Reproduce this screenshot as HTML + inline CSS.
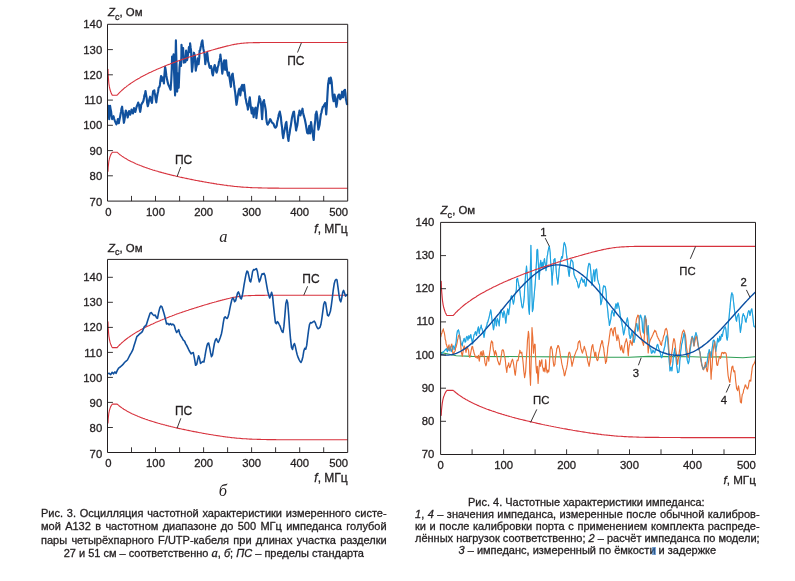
<!DOCTYPE html>
<html lang="ru"><head><meta charset="utf-8"><title>Рис. 3, 4</title>
<style>
html,body{margin:0;padding:0;background:#fff;}
body{width:795px;height:581px;position:relative;overflow:hidden;font-family:"Liberation Sans",Arial,sans-serif;color:#231f20;}
svg{position:absolute;left:0;top:0;will-change:transform;}
svg text{font-family:"Liberation Sans",Arial,sans-serif;fill:#231f20;stroke:#231f20;stroke-width:0.3px;}
svg text.ser{font-family:"Liberation Serif",serif;font-style:italic;font-size:16.5px;stroke:none;}
.c{position:absolute;white-space:nowrap;color:#231f20;will-change:transform;-webkit-text-stroke:0.3px #231f20;}
.c i.s{font-family:"Liberation Serif",serif;font-size:1.15em;line-height:0;}
</style></head><body>
<svg width="795" height="581" viewBox="0 0 795 581">
<clipPath id="ca"><rect x="107.5" y="24.3" width="240.7" height="176.8"/></clipPath>
<polyline points="107.5,113.4 107.9,109.1 108.4,105.8 108.8,111.8 109.2,119.1 109.7,112.2 110.1,105.8 110.5,108.6 111.1,111.5 111.5,115.2 112.2,119.1 112.7,117.1 113.5,116.2 114.2,119.0 114.9,120.9 115.5,122.3 116.4,124.4 117.2,122.3 117.9,119.1 118.4,121.0 118.8,123.2 119.6,119.1 120.2,116.2 120.7,113.5 121.1,111.5 121.5,108.6 122.1,106.7 122.5,110.5 123.0,113.4 123.4,118.2 123.9,122.8 124.5,119.8 124.9,117.2 125.4,113.2 125.8,110.5 126.2,111.5 126.8,113.4 127.3,115.4 127.7,117.5 128.3,114.4 129.1,111.1 129.6,112.6 130.2,114.7 131.0,112.4 131.5,109.6 132.1,111.6 132.9,113.4 133.4,111.2 134.0,108.1 134.7,109.7 135.3,111.9 136.1,108.8 136.6,106.7 137.4,105.0 138.2,102.6 138.5,103.7 139.1,104.8 139.5,108.6 140.2,111.9 140.8,108.4 141.2,104.8 141.9,103.6 142.3,102.9 143.0,101.8 143.5,100.5 144.0,97.9 144.4,95.4 145.1,93.8 145.5,91.0 146.1,94.8 146.7,98.2 147.1,102.5 147.8,106.2 148.4,104.0 149.0,100.5 149.6,98.3 150.1,96.7 150.5,98.8 151.0,100.5 151.4,101.7 152.0,102.9 152.5,96.4 153.1,91.0 153.6,91.0 154.3,90.3 154.6,92.5 155.2,95.4 155.7,99.4 156.3,102.4 156.8,98.1 157.5,94.0 158.1,91.5 158.6,87.8 159.4,86.9 159.9,84.9 160.4,80.4 161.1,76.0 161.5,78.9 162.0,80.8 162.6,78.6 163.0,77.4 163.4,80.0 163.9,83.4 164.4,75.2 165.1,66.9 165.6,69.5 166.0,72.6 166.4,76.0 167.1,79.6 167.7,82.2 168.3,84.6 169.0,86.0 169.4,86.8 170.0,88.4 170.6,89.7 171.0,84.0 171.3,79.6 171.8,68.5 172.1,56.5 172.6,62.6 172.8,67.9 173.2,60.9 173.6,54.3 173.8,66.0 174.3,77.4 174.6,85.8 175.1,95.4 175.4,67.4 175.9,40.4 176.2,53.5 176.6,67.9 176.8,79.2 177.2,91.6 177.4,82.4 177.9,73.6 178.2,81.2 178.7,87.8 179.1,77.4 179.5,67.9 179.8,64.4 180.2,61.3 180.6,63.1 181.0,66.0 181.4,56.1 181.5,44.8 181.9,50.2 182.3,55.6 182.6,51.2 183.1,48.0 183.4,55.0 183.8,62.6 184.3,60.0 184.6,58.4 184.8,60.9 185.3,62.2 185.7,55.8 186.1,50.5 186.6,54.7 187.0,60.3 187.5,58.1 188.0,54.6 188.6,51.1 188.9,47.1 189.3,49.2 189.9,51.8 189.9,47.9 190.1,43.3 190.6,47.4 191.1,50.8 191.5,60.9 192.0,71.7 192.6,67.2 193.0,61.3 193.5,57.4 193.9,52.7 194.5,54.5 194.9,55.6 195.2,63.2 195.8,70.7 196.2,67.7 196.7,66.0 197.1,61.9 197.7,58.4 198.1,61.5 198.6,64.1 199.3,57.4 199.6,50.8 200.2,50.1 200.5,48.0 201.1,45.4 201.5,43.3 201.9,41.5 202.4,40.4 202.8,44.3 203.4,48.9 203.9,51.4 204.3,52.7 204.9,58.4 205.3,64.1 205.8,60.3 206.2,55.6 206.6,54.4 207.2,52.7 207.8,57.4 208.1,61.3 208.7,63.1 209.1,65.1 209.4,66.9 210.0,67.9 210.4,67.4 211.0,66.0 211.6,68.2 211.9,70.7 212.3,73.7 212.9,75.5 213.4,72.2 213.8,69.8 214.2,66.9 214.7,65.1 215.3,67.4 215.7,68.8 216.1,71.2 216.6,72.6 217.3,70.5 217.6,67.9 218.0,66.5 218.5,65.1 218.9,62.0 219.5,60.3 220.1,57.7 220.4,54.6 220.9,59.0 221.4,62.2 221.8,68.4 222.3,73.6 222.9,69.4 223.3,66.0 223.7,62.9 224.2,60.3 224.6,65.2 225.2,69.8 225.6,64.9 226.1,60.3 226.5,66.1 227.1,70.7 227.5,73.0 228.0,75.5 228.5,74.6 229.0,72.6 229.4,77.0 229.9,80.2 230.4,83.6 230.9,86.8 231.3,80.5 231.8,75.5 232.3,74.1 232.7,73.6 233.1,77.8 233.7,81.2 234.1,84.9 234.6,88.7 235.2,92.6 235.6,96.3 236.0,100.6 236.5,104.8 237.0,101.9 237.5,98.2 237.8,95.5 238.4,92.5 238.8,90.3 239.4,88.7 239.9,92.1 240.3,95.4 240.8,91.5 241.3,86.8 241.9,85.8 242.2,84.9 242.7,87.8 243.2,90.6 243.6,88.1 244.1,84.9 244.6,89.7 245.1,94.4 245.5,97.9 246.0,100.1 246.5,103.0 247.0,104.8 247.6,106.9 247.9,109.6 248.4,106.9 248.9,102.9 249.4,99.6 249.8,97.3 250.2,101.4 250.7,105.8 251.1,109.2 251.7,113.4 252.0,110.8 252.6,107.7 253.2,113.0 253.6,117.2 254.0,114.1 254.5,110.5 255.1,108.6 255.5,107.7 256.1,113.5 256.4,118.1 256.8,114.5 257.4,109.6 257.8,106.7 258.3,103.9 258.9,100.6 259.3,96.3 259.6,97.6 260.2,99.2 260.7,102.2 261.2,105.8 261.6,112.2 262.1,119.1 262.7,109.9 263.1,102.0 263.6,101.0 264.0,100.1 264.3,102.7 265.0,105.8 265.5,108.6 265.9,111.5 266.2,117.8 266.9,122.8 267.4,124.4 267.8,124.7 268.2,123.5 268.8,122.9 269.3,121.4 270.1,119.2 270.6,119.6 271.3,121.1 271.9,122.6 272.6,122.9 273.3,123.6 273.9,124.8 274.6,126.8 275.4,127.7 276.1,127.0 276.7,125.8 277.2,121.9 277.9,119.2 278.4,116.7 278.8,114.4 279.2,113.6 279.8,111.6 280.4,114.8 280.9,117.3 281.4,123.0 282.1,127.7 282.5,133.4 283.2,138.1 283.7,134.6 284.3,131.5 284.9,128.8 285.5,124.8 285.9,122.9 286.4,122.0 286.9,127.3 287.4,133.4 287.8,136.7 288.5,140.9 288.9,136.7 289.6,133.4 290.1,129.3 290.8,125.8 291.4,121.7 291.9,118.2 292.5,115.4 293.0,113.5 293.5,111.9 294.0,111.6 294.4,115.6 294.9,121.1 295.6,125.9 296.1,130.5 296.5,128.1 297.2,125.8 297.9,120.5 298.3,116.3 299.0,113.4 299.5,110.6 300.0,113.5 300.4,115.4 300.9,113.5 301.4,111.6 302.0,110.8 302.5,108.7 303.0,112.5 303.7,115.4 304.3,117.5 304.8,119.2 305.3,121.8 305.9,124.8 306.4,128.1 307.1,132.4 307.5,133.2 308.2,133.4 308.7,129.1 309.3,125.8 309.6,130.1 310.1,133.4 310.7,127.9 311.0,122.0 311.5,125.4 312.0,129.6 312.4,131.9 312.9,134.3 313.2,137.1 313.7,140.0 314.1,133.5 314.6,125.8 315.3,120.2 315.6,114.4 316.0,113.7 316.5,111.6 317.0,114.7 317.5,118.2 317.8,123.7 318.4,129.6 319.0,127.2 319.6,124.8 320.0,121.1 320.5,117.3 320.8,114.6 321.5,112.5 321.8,110.5 322.4,108.7 322.7,107.1 323.4,106.8 323.8,105.5 324.3,104.9 324.8,104.0 325.3,103.1 325.8,109.0 326.2,114.4 326.7,108.3 327.1,101.2 327.6,92.4 328.1,84.1 328.7,80.8 329.0,78.4 329.6,81.0 330.0,83.2 330.2,80.8 330.7,77.5 331.3,80.0 331.7,82.2 332.2,89.3 332.6,95.5 333.0,98.3 333.6,101.2 334.1,98.3 334.5,94.5 335.1,97.8 335.5,100.2 336.0,104.1 336.4,106.8 337.0,103.3 337.4,99.3 337.8,96.7 338.3,95.5 338.7,94.8 339.3,94.5 339.6,97.4 340.2,99.3 340.7,98.5 341.2,97.4 341.7,94.8 342.1,91.7 342.6,93.8 343.1,97.4 343.6,94.4 344.0,90.7 344.5,90.3 345.0,89.8 345.5,93.9 345.9,99.3 346.4,101.3 346.9,104.0 347.2,104.1 347.8,104.9" fill="none" stroke="#11519e" stroke-width="2.15" stroke-linejoin="round" stroke-linecap="butt" clip-path="url(#ca)"/>
<polyline points="107.5,69.2 108.0,69.2 108.2,75.1 108.5,79.0 108.7,81.7 108.9,83.8 109.2,85.5 109.4,86.9 109.7,88.1 109.9,89.1 110.1,90.0 110.4,90.8 110.6,91.6 110.9,92.2 111.1,92.8 111.3,93.4 111.6,93.9 111.8,94.4 112.1,94.8 112.3,95.2 112.5,95.2 112.8,95.2 113.0,95.2 113.3,95.2 113.5,95.2 113.7,95.2 114.0,95.2 114.2,95.2 114.5,95.2 114.7,95.2 114.9,95.2 115.2,95.2 115.4,95.2 115.7,95.2 115.9,95.2 116.1,95.2 116.4,95.2 116.6,95.2 116.9,95.2 117.1,95.2 117.3,95.0 118.1,94.1 119.0,93.1 120.0,92.1 121.0,91.2 121.9,90.3 122.9,89.5 123.8,88.6 124.8,87.8 125.8,87.1 126.7,86.3 127.7,85.6 128.6,84.9 129.6,84.2 130.6,83.5 131.5,82.9 132.5,82.3 133.4,81.6 134.4,81.0 135.4,80.4 136.3,79.8 137.3,79.3 138.2,78.7 139.2,78.2 140.2,77.6 141.1,77.1 142.1,76.6 143.0,76.0 144.0,75.5 145.0,75.0 145.9,74.5 146.9,74.1 147.9,73.6 148.8,73.1 149.8,72.6 150.7,72.2 151.7,71.7 152.7,71.3 153.6,70.8 154.6,70.4 155.5,70.0 156.5,69.5 157.5,69.1 158.4,68.7 159.4,68.3 160.3,67.9 161.3,67.5 162.3,67.1 163.2,66.7 164.2,66.3 165.1,65.9 166.1,65.5 167.1,65.1 168.0,64.7 169.0,64.4 170.0,64.0 170.9,63.6 171.9,63.3 172.8,62.9 173.8,62.5 174.8,62.2 175.7,61.8 176.7,61.5 177.6,61.1 178.6,60.8 179.6,60.4 180.5,60.1 181.5,59.8 182.4,59.4 183.4,59.1 184.4,58.8 185.3,58.4 186.3,58.1 187.2,57.8 188.2,57.5 189.2,57.1 190.1,56.8 191.1,56.5 192.1,56.2 193.0,55.9 194.0,55.6 194.9,55.3 195.9,55.0 196.9,54.7 197.8,54.4 198.8,54.1 199.7,53.8 200.7,53.5 201.7,53.2 202.6,52.9 203.6,52.6 204.5,52.3 205.5,52.0 206.5,51.7 207.4,51.4 208.4,51.1 209.3,50.9 210.3,50.6 211.3,50.3 212.2,50.0 213.2,49.8 214.1,49.5 215.1,49.2 216.1,48.9 217.0,48.7 218.0,48.4 219.0,48.1 219.9,47.9 220.9,47.6 221.8,47.4 222.8,47.1 223.8,46.9 224.7,46.6 225.7,46.4 226.6,46.1 227.6,45.9 228.6,45.7 229.5,45.5 230.5,45.2 231.4,45.0 232.4,44.8 233.4,44.6 234.3,44.4 235.3,44.3 236.2,44.1 237.2,43.9 238.2,43.8 239.1,43.7 240.1,43.5 241.1,43.4 242.0,43.3 243.0,43.2 243.9,43.1 244.9,43.0 245.9,43.0 246.8,42.9 247.8,42.9 248.7,42.8 249.7,42.8 250.7,42.7 251.6,42.7 252.6,42.7 253.5,42.6 254.5,42.6 255.5,42.6 256.4,42.6 257.4,42.6 258.3,42.6 259.3,42.6 260.3,42.5 261.2,42.5 262.2,42.5 263.1,42.5 264.1,42.5 265.1,42.5 266.0,42.5 267.0,42.5 268.0,42.5 268.9,42.5 269.9,42.5 270.8,42.5 271.8,42.5 272.8,42.5 273.7,42.5 274.7,42.5 275.6,42.5 276.6,42.5 277.6,42.5 278.5,42.5 279.5,42.5 280.4,42.5 281.4,42.5 282.4,42.5 283.3,42.5 284.3,42.5 285.2,42.5 286.2,42.5 287.2,42.5 288.1,42.5 289.1,42.5 290.1,42.5 291.0,42.5 292.0,42.5 292.9,42.5 293.9,42.5 294.9,42.5 295.8,42.5 296.8,42.5 297.7,42.5 298.7,42.5 299.7,42.5 300.6,42.5 301.6,42.5 302.5,42.5 303.5,42.5 304.5,42.5 305.4,42.5 306.4,42.5 307.3,42.5 308.3,42.5 309.3,42.5 310.2,42.5 311.2,42.5 312.2,42.5 313.1,42.5 314.1,42.5 315.0,42.5 316.0,42.5 317.0,42.5 317.9,42.5 318.9,42.5 319.8,42.5 320.8,42.5 321.8,42.5 322.7,42.5 323.7,42.5 324.6,42.5 325.6,42.5 326.6,42.5 327.5,42.5 328.5,42.5 329.4,42.5 330.4,42.5 331.4,42.5 332.3,42.5 333.3,42.5 334.2,42.5 335.2,42.5 336.2,42.5 337.1,42.5 338.1,42.5 339.1,42.5 340.0,42.5 341.0,42.5 341.9,42.5 342.9,42.5 343.9,42.5 344.8,42.5 345.8,42.5 346.7,42.5 347.7,42.5" fill="none" stroke="#d7323d" stroke-width="1.1" stroke-linejoin="round" stroke-linecap="butt" />
<polyline points="107.5,171.3 108.0,171.3 108.2,167.2 108.5,164.5 108.7,162.5 108.9,161.0 109.2,159.7 109.4,158.7 109.7,157.8 109.9,157.0 110.1,156.3 110.4,155.7 110.6,155.1 110.9,154.6 111.1,154.1 111.3,153.7 111.6,153.3 111.8,152.9 112.1,152.6 112.3,152.2 112.5,152.2 112.8,152.2 113.0,152.2 113.3,152.2 113.5,152.2 113.7,152.2 114.0,152.2 114.2,152.2 114.5,152.2 114.7,152.2 114.9,152.2 115.2,152.2 115.4,152.2 115.7,152.2 115.9,152.2 116.1,152.2 116.4,152.2 116.6,152.2 116.9,152.2 117.1,152.2 117.3,152.4 118.1,153.1 119.0,153.9 120.0,154.7 121.0,155.4 121.9,156.1 122.9,156.7 123.8,157.4 124.8,158.0 125.8,158.6 126.7,159.1 127.7,159.7 128.6,160.2 129.6,160.7 130.6,161.2 131.5,161.7 132.5,162.1 133.4,162.6 134.4,163.0 135.4,163.5 136.3,163.9 137.3,164.3 138.2,164.7 139.2,165.1 140.2,165.5 141.1,165.8 142.1,166.2 143.0,166.6 144.0,166.9 145.0,167.3 145.9,167.6 146.9,167.9 147.9,168.3 148.8,168.6 149.8,168.9 150.7,169.2 151.7,169.5 152.7,169.9 153.6,170.2 154.6,170.4 155.5,170.7 156.5,171.0 157.5,171.3 158.4,171.6 159.4,171.9 160.3,172.1 161.3,172.4 162.3,172.7 163.2,172.9 164.2,173.2 165.1,173.4 166.1,173.7 167.1,173.9 168.0,174.2 169.0,174.4 170.0,174.7 170.9,174.9 171.9,175.2 172.8,175.4 173.8,175.6 174.8,175.8 175.7,176.1 176.7,176.3 177.6,176.5 178.6,176.7 179.6,177.0 180.5,177.2 181.5,177.4 182.4,177.6 183.4,177.8 184.4,178.0 185.3,178.2 186.3,178.4 187.2,178.6 188.2,178.8 189.2,179.0 190.1,179.2 191.1,179.4 192.1,179.6 193.0,179.8 194.0,180.0 194.9,180.2 195.9,180.4 196.9,180.5 197.8,180.7 198.8,180.9 199.7,181.1 200.7,181.3 201.7,181.4 202.6,181.6 203.6,181.8 204.5,182.0 205.5,182.1 206.5,182.3 207.4,182.5 208.4,182.6 209.3,182.8 210.3,183.0 211.3,183.1 212.2,183.3 213.2,183.4 214.1,183.6 215.1,183.8 216.1,183.9 217.0,184.1 218.0,184.2 219.0,184.3 219.9,184.5 220.9,184.6 221.8,184.8 222.8,184.9 223.8,185.0 224.7,185.2 225.7,185.3 226.6,185.4 227.6,185.6 228.6,185.7 229.5,185.8 230.5,185.9 231.4,186.0 232.4,186.1 233.4,186.2 234.3,186.4 235.3,186.5 236.2,186.5 237.2,186.6 238.2,186.7 239.1,186.8 240.1,186.9 241.1,187.0 242.0,187.1 243.0,187.1 243.9,187.2 244.9,187.3 245.9,187.3 246.8,187.4 247.8,187.4 248.7,187.5 249.7,187.5 250.7,187.6 251.6,187.6 252.6,187.7 253.5,187.7 254.5,187.7 255.5,187.8 256.4,187.8 257.4,187.8 258.3,187.9 259.3,187.9 260.3,187.9 261.2,187.9 262.2,188.0 263.1,188.0 264.1,188.0 265.1,188.0 266.0,188.0 267.0,188.0 268.0,188.1 268.9,188.1 269.9,188.1 270.8,188.1 271.8,188.1 272.8,188.1 273.7,188.1 274.7,188.1 275.6,188.1 276.6,188.1 277.6,188.1 278.5,188.1 279.5,188.2 280.4,188.2 281.4,188.2 282.4,188.2 283.3,188.2 284.3,188.2 285.2,188.2 286.2,188.2 287.2,188.2 288.1,188.2 289.1,188.2 290.1,188.2 291.0,188.2 292.0,188.2 292.9,188.2 293.9,188.2 294.9,188.2 295.8,188.2 296.8,188.2 297.7,188.2 298.7,188.2 299.7,188.2 300.6,188.2 301.6,188.2 302.5,188.2 303.5,188.2 304.5,188.2 305.4,188.2 306.4,188.2 307.3,188.2 308.3,188.2 309.3,188.2 310.2,188.2 311.2,188.2 312.2,188.2 313.1,188.2 314.1,188.2 315.0,188.2 316.0,188.2 317.0,188.2 317.9,188.2 318.9,188.2 319.8,188.2 320.8,188.2 321.8,188.2 322.7,188.2 323.7,188.2 324.6,188.2 325.6,188.2 326.6,188.2 327.5,188.2 328.5,188.2 329.4,188.2 330.4,188.2 331.4,188.2 332.3,188.2 333.3,188.2 334.2,188.2 335.2,188.2 336.2,188.2 337.1,188.2 338.1,188.2 339.1,188.2 340.0,188.2 341.0,188.2 341.9,188.2 342.9,188.2 343.9,188.2 344.8,188.2 345.8,188.2 346.7,188.2 347.7,188.2" fill="none" stroke="#d7323d" stroke-width="1.1" stroke-linejoin="round" stroke-linecap="butt" />
<path d="M107.5 24.3H347.7V201.1H107.5Z" fill="none" stroke="#231f20" stroke-width="1"/>
<line x1="131.5" y1="201.1" x2="131.5" y2="195.9" stroke="#231f20" stroke-width="0.9"/>
<line x1="155.5" y1="201.1" x2="155.5" y2="195.9" stroke="#231f20" stroke-width="0.9"/>
<line x1="179.6" y1="201.1" x2="179.6" y2="195.9" stroke="#231f20" stroke-width="0.9"/>
<line x1="203.6" y1="201.1" x2="203.6" y2="195.9" stroke="#231f20" stroke-width="0.9"/>
<line x1="227.6" y1="201.1" x2="227.6" y2="195.9" stroke="#231f20" stroke-width="0.9"/>
<line x1="251.6" y1="201.1" x2="251.6" y2="195.9" stroke="#231f20" stroke-width="0.9"/>
<line x1="275.6" y1="201.1" x2="275.6" y2="195.9" stroke="#231f20" stroke-width="0.9"/>
<line x1="299.7" y1="201.1" x2="299.7" y2="195.9" stroke="#231f20" stroke-width="0.9"/>
<line x1="323.7" y1="201.1" x2="323.7" y2="195.9" stroke="#231f20" stroke-width="0.9"/>
<line x1="107.5" y1="175.8" x2="112.9" y2="175.8" stroke="#231f20" stroke-width="0.9"/>
<line x1="107.5" y1="150.6" x2="112.9" y2="150.6" stroke="#231f20" stroke-width="0.9"/>
<line x1="107.5" y1="125.3" x2="112.9" y2="125.3" stroke="#231f20" stroke-width="0.9"/>
<line x1="107.5" y1="100.1" x2="112.9" y2="100.1" stroke="#231f20" stroke-width="0.9"/>
<line x1="107.5" y1="74.8" x2="112.9" y2="74.8" stroke="#231f20" stroke-width="0.9"/>
<line x1="107.5" y1="49.6" x2="112.9" y2="49.6" stroke="#231f20" stroke-width="0.9"/>
<text x="102.2" y="206.2" text-anchor="end" font-size="11.3">70</text>
<text x="102.2" y="179.9" text-anchor="end" font-size="11.3">80</text>
<text x="102.2" y="154.7" text-anchor="end" font-size="11.3">90</text>
<text x="102.2" y="129.4" text-anchor="end" font-size="11.3">100</text>
<text x="102.2" y="104.1" text-anchor="end" font-size="11.3">110</text>
<text x="102.2" y="78.9" text-anchor="end" font-size="11.3">120</text>
<text x="102.2" y="53.6" text-anchor="end" font-size="11.3">130</text>
<text x="102.2" y="28.4" text-anchor="end" font-size="11.3">140</text>
<text x="108.5" y="216.2" text-anchor="middle" font-size="11.3">0</text>
<text x="155.5" y="216.2" text-anchor="middle" font-size="11.3">100</text>
<text x="203.6" y="216.2" text-anchor="middle" font-size="11.3">200</text>
<text x="251.6" y="216.2" text-anchor="middle" font-size="11.3">300</text>
<text x="299.7" y="216.2" text-anchor="middle" font-size="11.3">400</text>
<text x="348.0" y="216.2" text-anchor="end" font-size="11.3">500</text>
<text x="108.0" y="16.2" font-size="11.4"><tspan font-style="italic">Z</tspan><tspan dy="3.6" font-size="9.120000000000001">с</tspan><tspan dy="-3.6">, Ом</tspan></text>
<text x="347.7" y="232.5" text-anchor="end" font-size="12.0"><tspan font-style="italic">f</tspan>, МГц</text>
<text x="295.8" y="64.7" text-anchor="middle" font-size="12.0">ПС</text>
<line x1="301.4" y1="42.8" x2="297.5" y2="52.5" stroke="#231f20" stroke-width="0.9"/>
<text x="183.6" y="164.3" text-anchor="middle" font-size="12.0">ПС</text>
<line x1="180.7" y1="167.0" x2="177.1" y2="176.6" stroke="#231f20" stroke-width="0.9"/>
<text x="223.3" y="242.4" text-anchor="middle" class="ser">а</text>
<clipPath id="cb"><rect x="107.5" y="259.4" width="240.7" height="193.1"/></clipPath>
<polyline points="107.5,321.8 108.0,321.8 108.2,327.7 108.5,331.5 108.7,334.2 108.9,336.3 109.2,337.9 109.4,339.3 109.7,340.5 109.9,341.5 110.1,342.4 110.4,343.2 110.6,344.0 110.9,344.6 111.1,345.2 111.3,345.8 111.6,346.3 111.8,346.7 112.1,347.2 112.3,347.6 112.5,347.6 112.8,347.6 113.0,347.6 113.3,347.6 113.5,347.6 113.7,347.6 114.0,347.6 114.2,347.6 114.5,347.6 114.7,347.6 114.9,347.6 115.2,347.6 115.4,347.6 115.7,347.6 115.9,347.6 116.1,347.6 116.4,347.6 116.6,347.6 116.9,347.6 117.1,347.6 117.3,347.3 118.1,346.5 119.0,345.5 120.0,344.5 121.0,343.6 121.9,342.7 122.9,341.9 123.8,341.1 124.8,340.3 125.8,339.5 126.7,338.8 127.7,338.0 128.6,337.4 129.6,336.7 130.6,336.0 131.5,335.4 132.5,334.7 133.4,334.1 134.4,333.5 135.4,332.9 136.3,332.3 137.3,331.8 138.2,331.2 139.2,330.7 140.2,330.1 141.1,329.6 142.1,329.1 143.0,328.6 144.0,328.1 145.0,327.6 145.9,327.1 146.9,326.6 147.9,326.1 148.8,325.7 149.8,325.2 150.7,324.7 151.7,324.3 152.7,323.9 153.6,323.4 154.6,323.0 155.5,322.6 156.5,322.1 157.5,321.7 158.4,321.3 159.4,320.9 160.3,320.5 161.3,320.1 162.3,319.7 163.2,319.3 164.2,318.9 165.1,318.5 166.1,318.1 167.1,317.8 168.0,317.4 169.0,317.0 170.0,316.6 170.9,316.3 171.9,315.9 172.8,315.5 173.8,315.2 174.8,314.8 175.7,314.5 176.7,314.1 177.6,313.8 178.6,313.5 179.6,313.1 180.5,312.8 181.5,312.4 182.4,312.1 183.4,311.8 184.4,311.5 185.3,311.1 186.3,310.8 187.2,310.5 188.2,310.2 189.2,309.8 190.1,309.5 191.1,309.2 192.1,308.9 193.0,308.6 194.0,308.3 194.9,308.0 195.9,307.7 196.9,307.4 197.8,307.1 198.8,306.8 199.7,306.5 200.7,306.2 201.7,305.9 202.6,305.6 203.6,305.3 204.5,305.0 205.5,304.7 206.5,304.5 207.4,304.2 208.4,303.9 209.3,303.6 210.3,303.3 211.3,303.1 212.2,302.8 213.2,302.5 214.1,302.3 215.1,302.0 216.1,301.7 217.0,301.4 218.0,301.2 219.0,300.9 219.9,300.7 220.9,300.4 221.8,300.2 222.8,299.9 223.8,299.7 224.7,299.4 225.7,299.2 226.6,298.9 227.6,298.7 228.6,298.5 229.5,298.3 230.5,298.0 231.4,297.8 232.4,297.6 233.4,297.4 234.3,297.3 235.3,297.1 236.2,296.9 237.2,296.8 238.2,296.6 239.1,296.5 240.1,296.4 241.1,296.2 242.0,296.1 243.0,296.0 243.9,296.0 244.9,295.9 245.9,295.8 246.8,295.7 247.8,295.7 248.7,295.6 249.7,295.6 250.7,295.6 251.6,295.5 252.6,295.5 253.5,295.5 254.5,295.5 255.5,295.4 256.4,295.4 257.4,295.4 258.3,295.4 259.3,295.4 260.3,295.4 261.2,295.4 262.2,295.4 263.1,295.4 264.1,295.4 265.1,295.3 266.0,295.3 267.0,295.3 268.0,295.3 268.9,295.3 269.9,295.3 270.8,295.3 271.8,295.3 272.8,295.3 273.7,295.3 274.7,295.3 275.6,295.3 276.6,295.3 277.6,295.3 278.5,295.3 279.5,295.3 280.4,295.3 281.4,295.3 282.4,295.3 283.3,295.3 284.3,295.3 285.2,295.3 286.2,295.3 287.2,295.3 288.1,295.3 289.1,295.3 290.1,295.3 291.0,295.3 292.0,295.3 292.9,295.3 293.9,295.3 294.9,295.3 295.8,295.3 296.8,295.3 297.7,295.3 298.7,295.3 299.7,295.3 300.6,295.3 301.6,295.3 302.5,295.3 303.5,295.3 304.5,295.3 305.4,295.3 306.4,295.3 307.3,295.3 308.3,295.3 309.3,295.3 310.2,295.3 311.2,295.3 312.2,295.3 313.1,295.3 314.1,295.3 315.0,295.3 316.0,295.3 317.0,295.3 317.9,295.3 318.9,295.3 319.8,295.3 320.8,295.3 321.8,295.3 322.7,295.3 323.7,295.3 324.6,295.3 325.6,295.3 326.6,295.3 327.5,295.3 328.5,295.3 329.4,295.3 330.4,295.3 331.4,295.3 332.3,295.3 333.3,295.3 334.2,295.3 335.2,295.3 336.2,295.3 337.1,295.3 338.1,295.3 339.1,295.3 340.0,295.3 341.0,295.3 341.9,295.3 342.9,295.3 343.9,295.3 344.8,295.3 345.8,295.3 346.7,295.3 347.7,295.3" fill="none" stroke="#d7323d" stroke-width="1.1" stroke-linejoin="round" stroke-linecap="butt" />
<polyline points="107.5,422.9 108.0,422.9 108.2,418.9 108.5,416.2 108.7,414.3 108.9,412.8 109.2,411.5 109.4,410.5 109.7,409.6 109.9,408.8 110.1,408.1 110.4,407.5 110.6,406.9 110.9,406.4 111.1,405.9 111.3,405.5 111.6,405.1 111.8,404.7 112.1,404.4 112.3,404.1 112.5,404.1 112.8,404.1 113.0,404.1 113.3,404.1 113.5,404.1 113.7,404.1 114.0,404.1 114.2,404.1 114.5,404.1 114.7,404.1 114.9,404.1 115.2,404.1 115.4,404.1 115.7,404.1 115.9,404.1 116.1,404.1 116.4,404.1 116.6,404.1 116.9,404.1 117.1,404.1 117.3,404.3 118.1,404.9 119.0,405.7 120.0,406.5 121.0,407.2 121.9,407.9 122.9,408.5 123.8,409.2 124.8,409.8 125.8,410.3 126.7,410.9 127.7,411.4 128.6,411.9 129.6,412.5 130.6,412.9 131.5,413.4 132.5,413.9 133.4,414.3 134.4,414.8 135.4,415.2 136.3,415.6 137.3,416.0 138.2,416.4 139.2,416.8 140.2,417.2 141.1,417.6 142.1,417.9 143.0,418.3 144.0,418.6 145.0,419.0 145.9,419.3 146.9,419.6 147.9,420.0 148.8,420.3 149.8,420.6 150.7,420.9 151.7,421.2 152.7,421.5 153.6,421.8 154.6,422.1 155.5,422.4 156.5,422.7 157.5,423.0 158.4,423.3 159.4,423.5 160.3,423.8 161.3,424.1 162.3,424.3 163.2,424.6 164.2,424.8 165.1,425.1 166.1,425.3 167.1,425.6 168.0,425.8 169.0,426.1 170.0,426.3 170.9,426.6 171.9,426.8 172.8,427.0 173.8,427.2 174.8,427.5 175.7,427.7 176.7,427.9 177.6,428.1 178.6,428.4 179.6,428.6 180.5,428.8 181.5,429.0 182.4,429.2 183.4,429.4 184.4,429.6 185.3,429.8 186.3,430.0 187.2,430.2 188.2,430.4 189.2,430.6 190.1,430.8 191.1,431.0 192.1,431.2 193.0,431.4 194.0,431.6 194.9,431.8 195.9,431.9 196.9,432.1 197.8,432.3 198.8,432.5 199.7,432.7 200.7,432.8 201.7,433.0 202.6,433.2 203.6,433.4 204.5,433.5 205.5,433.7 206.5,433.9 207.4,434.0 208.4,434.2 209.3,434.4 210.3,434.5 211.3,434.7 212.2,434.8 213.2,435.0 214.1,435.2 215.1,435.3 216.1,435.5 217.0,435.6 218.0,435.8 219.0,435.9 219.9,436.0 220.9,436.2 221.8,436.3 222.8,436.5 223.8,436.6 224.7,436.7 225.7,436.9 226.6,437.0 227.6,437.1 228.6,437.2 229.5,437.3 230.5,437.5 231.4,437.6 232.4,437.7 233.4,437.8 234.3,437.9 235.3,438.0 236.2,438.1 237.2,438.2 238.2,438.3 239.1,438.3 240.1,438.4 241.1,438.5 242.0,438.6 243.0,438.7 243.9,438.7 244.9,438.8 245.9,438.8 246.8,438.9 247.8,439.0 248.7,439.0 249.7,439.1 250.7,439.1 251.6,439.1 252.6,439.2 253.5,439.2 254.5,439.3 255.5,439.3 256.4,439.3 257.4,439.4 258.3,439.4 259.3,439.4 260.3,439.4 261.2,439.5 262.2,439.5 263.1,439.5 264.1,439.5 265.1,439.5 266.0,439.5 267.0,439.6 268.0,439.6 268.9,439.6 269.9,439.6 270.8,439.6 271.8,439.6 272.8,439.6 273.7,439.6 274.7,439.6 275.6,439.6 276.6,439.7 277.6,439.7 278.5,439.7 279.5,439.7 280.4,439.7 281.4,439.7 282.4,439.7 283.3,439.7 284.3,439.7 285.2,439.7 286.2,439.7 287.2,439.7 288.1,439.7 289.1,439.7 290.1,439.7 291.0,439.7 292.0,439.7 292.9,439.7 293.9,439.7 294.9,439.7 295.8,439.7 296.8,439.7 297.7,439.7 298.7,439.7 299.7,439.7 300.6,439.7 301.6,439.7 302.5,439.7 303.5,439.7 304.5,439.7 305.4,439.7 306.4,439.7 307.3,439.7 308.3,439.7 309.3,439.7 310.2,439.7 311.2,439.7 312.2,439.7 313.1,439.7 314.1,439.7 315.0,439.7 316.0,439.7 317.0,439.7 317.9,439.7 318.9,439.7 319.8,439.7 320.8,439.7 321.8,439.7 322.7,439.7 323.7,439.7 324.6,439.7 325.6,439.7 326.6,439.7 327.5,439.7 328.5,439.7 329.4,439.7 330.4,439.7 331.4,439.7 332.3,439.7 333.3,439.7 334.2,439.7 335.2,439.7 336.2,439.7 337.1,439.7 338.1,439.7 339.1,439.7 340.0,439.7 341.0,439.7 341.9,439.7 342.9,439.7 343.9,439.7 344.8,439.7 345.8,439.7 346.7,439.7 347.7,439.7" fill="none" stroke="#d7323d" stroke-width="1.1" stroke-linejoin="round" stroke-linecap="butt" />
<polyline points="107.5,373.8 109.2,373.3 110.7,374.6 112.2,372.3 113.5,373.8 114.9,371.9 116.0,373.3 117.3,370.4 118.6,368.1 120.2,367.0 121.7,365.7 123.0,364.4 124.3,362.8 125.8,361.3 127.4,360.0 128.7,357.5 130.0,354.9 131.5,352.4 132.9,349.6 134.0,345.8 134.9,342.9 135.9,339.7 136.8,336.7 138.2,335.4 139.5,334.0 141.0,332.9 142.3,331.6 143.5,328.7 144.4,326.5 145.4,325.9 146.3,324.9 147.6,320.8 149.0,316.4 150.1,313.2 151.4,312.6 152.7,314.5 153.9,315.5 155.2,315.1 156.5,317.7 157.5,318.3 158.6,312.6 159.8,307.9 160.9,306.0 162.0,306.9 163.2,310.7 164.3,314.5 165.4,318.9 166.6,324.0 167.9,323.4 169.0,324.9 170.4,323.6 171.7,324.9 172.8,324.0 174.2,325.3 175.5,329.7 176.6,332.5 177.8,331.0 178.7,329.7 179.7,333.5 180.8,335.9 182.1,337.8 183.3,340.1 184.6,341.1 185.7,343.9 186.9,345.8 188.0,348.1 189.1,350.5 191.1,353.9 192.2,352.9 193.3,352.6 194.5,358.6 195.6,365.3 196.7,364.3 197.7,359.6 198.6,355.8 199.6,358.6 200.5,363.4 201.7,362.4 203.0,361.5 203.9,362.0 204.9,356.7 205.8,351.1 206.8,346.3 207.7,343.5 208.7,343.1 209.6,347.3 210.6,352.9 211.5,356.7 212.5,354.8 213.4,349.2 214.4,343.5 215.3,340.1 216.3,338.7 217.2,340.6 218.2,342.5 219.1,340.6 220.2,337.8 221.4,334.0 222.3,329.3 223.3,322.6 224.2,317.9 225.2,316.9 226.1,317.9 227.1,318.5 228.0,316.9 229.0,313.2 229.9,308.4 230.9,303.7 231.8,299.9 232.7,298.0 233.7,298.9 234.6,301.8 235.6,300.8 236.5,297.1 237.5,293.3 238.4,291.9 239.4,294.2 240.3,298.0 241.3,298.9 242.2,296.1 243.2,290.4 244.1,284.7 245.1,279.1 246.0,274.3 247.0,271.1 247.9,271.9 248.9,276.2 249.8,280.9 250.7,281.9 251.7,277.2 252.6,271.5 253.6,269.6 254.5,270.0 255.5,269.2 256.4,268.6 257.4,271.5 258.3,277.2 259.3,281.9 260.2,280.0 261.2,276.2 262.1,273.7 263.1,274.3 264.0,273.4 265.0,275.6 265.9,280.9 266.9,286.6 267.8,291.4 268.8,295.2 269.7,298.0 270.7,295.2 271.6,292.3 272.6,296.1 273.5,305.6 274.5,315.1 275.4,322.6 276.4,323.6 277.3,321.7 278.3,322.6 279.2,324.5 280.2,326.4 281.1,329.3 282.1,331.7 283.0,332.5 283.9,326.4 284.9,315.1 285.8,303.7 286.8,299.9 287.7,302.7 288.7,315.1 289.6,328.3 290.6,339.7 291.5,347.3 292.5,349.5 293.4,345.4 294.4,343.5 295.3,346.3 296.3,351.1 297.2,354.8 298.2,357.7 299.1,359.6 300.1,361.5 301.0,362.4 301.9,360.5 302.9,356.7 303.8,351.1 304.8,348.2 305.7,349.2 306.7,345.4 307.6,337.8 308.6,330.2 309.5,324.5 310.5,322.6 311.4,323.0 312.4,322.3 313.3,321.7 314.3,321.1 315.2,322.6 316.2,325.5 317.1,327.4 318.1,328.7 319.0,328.3 319.9,327.4 320.9,324.5 321.8,318.8 322.8,311.3 323.7,304.6 324.7,301.8 325.6,302.7 326.6,309.4 327.5,315.1 328.5,316.0 329.4,314.1 330.4,311.3 331.3,305.6 332.3,298.0 333.2,290.4 334.2,283.8 335.1,280.6 336.1,279.4 337.0,280.0 337.9,286.6 338.9,294.2 339.8,299.9 340.8,301.8 341.7,298.0 342.7,292.3 343.6,290.4 344.6,293.3 345.5,296.1 346.5,295.2 347.8,294.2" fill="none" stroke="#11519e" stroke-width="1.6" stroke-linejoin="round" stroke-linecap="butt" clip-path="url(#cb)"/>
<path d="M107.5 259.4H347.7V452.5H107.5Z" fill="none" stroke="#231f20" stroke-width="1"/>
<line x1="131.5" y1="452.5" x2="131.5" y2="447.3" stroke="#231f20" stroke-width="0.9"/>
<line x1="155.5" y1="452.5" x2="155.5" y2="447.3" stroke="#231f20" stroke-width="0.9"/>
<line x1="179.6" y1="452.5" x2="179.6" y2="447.3" stroke="#231f20" stroke-width="0.9"/>
<line x1="203.6" y1="452.5" x2="203.6" y2="447.3" stroke="#231f20" stroke-width="0.9"/>
<line x1="227.6" y1="452.5" x2="227.6" y2="447.3" stroke="#231f20" stroke-width="0.9"/>
<line x1="251.6" y1="452.5" x2="251.6" y2="447.3" stroke="#231f20" stroke-width="0.9"/>
<line x1="275.6" y1="452.5" x2="275.6" y2="447.3" stroke="#231f20" stroke-width="0.9"/>
<line x1="299.7" y1="452.5" x2="299.7" y2="447.3" stroke="#231f20" stroke-width="0.9"/>
<line x1="323.7" y1="452.5" x2="323.7" y2="447.3" stroke="#231f20" stroke-width="0.9"/>
<line x1="107.5" y1="427.5" x2="112.9" y2="427.5" stroke="#231f20" stroke-width="0.9"/>
<line x1="107.5" y1="402.4" x2="112.9" y2="402.4" stroke="#231f20" stroke-width="0.9"/>
<line x1="107.5" y1="377.4" x2="112.9" y2="377.4" stroke="#231f20" stroke-width="0.9"/>
<line x1="107.5" y1="352.4" x2="112.9" y2="352.4" stroke="#231f20" stroke-width="0.9"/>
<line x1="107.5" y1="327.4" x2="112.9" y2="327.4" stroke="#231f20" stroke-width="0.9"/>
<line x1="107.5" y1="302.3" x2="112.9" y2="302.3" stroke="#231f20" stroke-width="0.9"/>
<line x1="107.5" y1="277.3" x2="112.9" y2="277.3" stroke="#231f20" stroke-width="0.9"/>
<text x="102.2" y="457.6" text-anchor="end" font-size="11.3">70</text>
<text x="102.2" y="431.5" text-anchor="end" font-size="11.3">80</text>
<text x="102.2" y="406.5" text-anchor="end" font-size="11.3">90</text>
<text x="102.2" y="381.5" text-anchor="end" font-size="11.3">100</text>
<text x="102.2" y="356.5" text-anchor="end" font-size="11.3">110</text>
<text x="102.2" y="331.4" text-anchor="end" font-size="11.3">120</text>
<text x="102.2" y="306.4" text-anchor="end" font-size="11.3">130</text>
<text x="102.2" y="281.4" text-anchor="end" font-size="11.3">140</text>
<text x="108.5" y="467.0" text-anchor="middle" font-size="11.3">0</text>
<text x="155.5" y="467.0" text-anchor="middle" font-size="11.3">100</text>
<text x="203.6" y="467.0" text-anchor="middle" font-size="11.3">200</text>
<text x="251.6" y="467.0" text-anchor="middle" font-size="11.3">300</text>
<text x="299.7" y="467.0" text-anchor="middle" font-size="11.3">400</text>
<text x="348.0" y="467.0" text-anchor="end" font-size="11.3">500</text>
<text x="108.0" y="251.6" font-size="11.4"><tspan font-style="italic">Z</tspan><tspan dy="3.6" font-size="9.120000000000001">с</tspan><tspan dy="-3.6">, Ом</tspan></text>
<text x="347.7" y="482.4" text-anchor="end" font-size="12.0"><tspan font-style="italic">f</tspan>, МГц</text>
<text x="311.0" y="283.0" text-anchor="middle" font-size="12.0">ПС</text>
<line x1="307.6" y1="286.3" x2="303.8" y2="295.2" stroke="#231f20" stroke-width="0.9"/>
<text x="183.6" y="415.3" text-anchor="middle" font-size="12.0">ПС</text>
<line x1="180.8" y1="418.3" x2="177.1" y2="428.2" stroke="#231f20" stroke-width="0.9"/>
<text x="222.8" y="495.5" text-anchor="middle" class="ser">б</text>
<clipPath id="cc"><rect x="440.6" y="222.4" width="315.4" height="232.1"/></clipPath>
<polyline points="440.6,352.4 446.9,353.7 456.3,355.7 472.1,356.4 535.1,356.7 566.6,356.9 598.0,357.3 629.5,357.2 648.4,356.4 692.5,356.7 705.1,357.3 717.7,356.7 730.3,357.3 742.9,357.7 755.5,356.7" fill="none" stroke="#2f9e55" stroke-width="1.1" stroke-linejoin="round" stroke-linecap="butt" />
<polyline points="440.5,355.4 441.1,354.6 441.8,353.5 442.7,352.4 443.3,351.6 444.1,351.1 444.8,350.3 445.6,349.5 446.5,348.7 447.0,350.9 447.5,351.6 447.8,349.2 448.4,347.8 448.8,350.0 449.4,350.6 449.9,347.5 450.3,346.8 450.9,350.4 451.3,351.6 451.8,350.5 452.2,348.7 452.6,346.1 453.2,345.9 453.6,346.6 454.1,349.7 454.5,347.6 455.1,346.8 455.4,344.9 456.0,343.1 456.3,340.2 456.6,335.5 457.0,333.5 457.5,330.7 458.0,330.7 458.5,329.8 458.9,331.6 459.4,334.5 460.0,338.2 460.4,339.3 460.9,342.2 461.3,344.0 461.7,344.2 462.3,345.9 462.7,342.4 463.2,341.2 463.8,339.5 464.1,338.3 464.7,339.9 465.1,342.1 465.7,341.6 466.0,339.3 466.4,337.1 467.0,336.4 467.6,338.2 467.9,340.2 468.6,337.6 468.9,335.5 469.2,337.2 469.8,338.3 470.4,335.8 470.8,334.5 471.1,336.5 471.7,339.3 472.3,342.3 472.7,344.0 473.0,340.0 473.6,337.4 474.0,334.8 474.6,334.5 475.1,332.3 475.5,331.7 476.0,333.4 476.5,335.5 476.8,333.7 477.4,330.7 477.8,329.2 478.4,326.9 478.7,330.1 479.3,333.6 479.7,330.1 480.3,327.9 480.9,327.3 481.2,325.1 481.6,327.9 482.1,328.8 482.5,330.5 483.1,332.6 483.7,335.4 484.0,337.4 484.4,335.3 485.0,330.7 485.4,328.7 485.9,327.9 486.5,326.0 486.9,325.1 487.3,322.5 487.8,322.2 488.2,320.5 488.8,318.4 489.2,316.8 489.7,314.6 490.2,312.1 490.7,309.9 491.3,313.2 491.6,316.5 492.1,320.8 492.6,323.2 492.9,325.6 493.5,329.8 494.1,326.4 494.5,321.3 494.9,319.0 495.4,318.4 496.0,323.4 496.4,326.0 496.7,323.4 497.3,318.4 497.9,320.1 498.3,321.3 498.7,322.6 499.2,326.0 499.5,321.5 500.1,314.6 500.5,312.8 501.1,309.9 501.5,312.2 502.0,312.7 502.5,314.6 503.0,317.5 503.4,314.7 503.9,310.8 504.3,312.0 504.9,314.6 505.4,319.8 505.8,323.2 506.3,318.3 506.8,314.6 507.4,311.0 507.7,308.9 508.1,311.2 508.7,314.6 509.1,310.2 509.6,308.0 510.0,303.4 510.6,299.5 511.1,296.6 511.5,295.7 511.9,298.6 512.5,299.5 513.1,302.3 513.4,304.2 513.9,301.6 514.4,298.5 514.7,294.9 515.3,293.8 515.6,293.0 516.3,290.0 516.5,285.8 516.6,279.3 517.0,279.1 517.6,278.3 518.0,281.3 518.5,283.1 518.7,285.4 518.9,285.1 519.3,288.0 519.9,290.7 520.4,295.6 520.8,298.3 521.4,302.6 521.8,305.9 522.4,307.9 522.7,307.8 523.2,305.4 523.7,302.1 524.3,296.4 524.6,288.8 525.1,282.0 525.6,273.7 526.2,270.1 526.5,266.1 527.0,272.4 527.5,279.4 528.0,292.0 528.4,304.0 528.8,309.6 529.4,314.4 530.0,293.1 530.3,269.9 530.7,257.3 530.9,245.3 531.3,262.5 531.6,279.4 532.0,296.4 532.4,311.6 532.7,310.3 533.2,307.8 533.5,302.4 534.1,296.4 534.6,290.0 535.1,285.1 535.6,277.5 536.0,269.9 536.5,261.5 536.9,250.9 537.3,249.2 537.7,250.0 538.0,258.5 538.5,266.1 538.8,271.9 539.2,279.4 539.7,272.2 540.0,264.2 540.3,263.3 540.7,260.4 541.1,264.2 541.5,267.1 541.8,264.5 542.3,262.3 542.7,266.2 543.0,268.0 543.5,264.9 543.8,262.3 544.2,259.9 544.5,258.5 544.8,261.4 545.3,264.2 545.8,268.4 546.0,270.8 546.5,266.8 546.8,260.4 547.1,256.7 547.6,254.7 547.9,251.8 548.3,250.0 548.7,247.9 549.3,246.2 549.8,249.5 550.2,252.8 550.6,261.3 551.2,268.0 551.8,276.4 552.1,285.1 552.5,276.3 553.1,269.9 553.6,263.5 554.0,259.5 554.5,259.2 554.9,258.5 555.4,263.1 555.9,266.1 556.2,270.8 556.8,277.5 557.3,279.6 557.8,284.1 558.4,279.2 558.7,275.6 559.1,269.7 559.7,266.1 560.2,263.1 560.6,260.4 561.1,258.9 561.6,256.6 562.1,258.3 562.5,257.6 563.1,251.6 563.5,247.2 563.9,244.0 564.4,242.4 564.7,243.8 565.4,245.3 565.9,248.2 566.3,252.8 566.7,256.2 567.3,260.4 567.8,265.2 568.2,269.9 568.7,273.9 569.2,276.5 569.6,272.1 570.1,266.1 570.7,261.7 571.1,259.5 571.7,260.5 572.0,260.4 572.4,261.2 572.9,262.3 573.5,269.1 573.9,273.7 574.3,275.3 574.8,276.5 575.4,278.2 575.8,278.4 576.4,279.7 576.7,281.3 577.3,281.9 577.7,284.1 578.2,286.8 578.6,287.9 579.1,286.6 579.6,284.1 580.0,283.3 580.5,280.3 581.1,280.1 581.5,277.5 582.0,279.2 582.4,279.4 582.8,281.9 583.4,282.2 583.9,280.4 584.3,279.4 584.7,282.5 585.3,286.0 585.8,286.2 586.2,285.1 586.7,279.1 587.2,275.6 587.7,270.2 588.1,267.1 588.7,264.3 589.1,263.3 589.5,264.5 590.0,264.2 590.4,267.6 590.9,272.7 591.4,279.5 591.9,285.1 592.5,281.8 592.8,277.5 593.4,273.7 593.8,269.9 594.4,274.5 594.7,281.3 595.1,275.6 595.7,269.9 596.1,270.0 596.6,268.9 597.1,274.2 597.6,279.4 598.2,281.4 598.5,283.2 598.9,283.8 599.5,285.1 600.3,295.9 600.8,304.6 601.2,303.6 601.8,300.8 602.4,296.2 602.7,291.4 603.2,287.7 603.7,285.7 604.2,286.2 604.6,286.6 605.1,286.4 605.6,288.5 606.2,293.8 606.5,298.9 607.0,304.5 607.5,308.4 608.0,313.1 608.4,317.9 609.0,320.6 609.4,325.5 609.9,323.4 610.3,321.7 610.9,319.0 611.3,314.1 611.7,312.1 612.2,310.3 612.6,311.6 613.2,313.2 613.7,315.6 614.1,316.0 614.6,311.7 615.1,308.4 615.4,306.4 616.0,303.7 616.6,305.1 616.9,308.4 617.5,304.3 617.9,302.7 618.3,303.9 618.8,306.5 619.4,308.9 619.8,312.2 620.2,315.4 620.7,317.9 621.1,320.4 621.7,321.7 622.0,324.6 622.6,327.4 623.0,330.4 623.6,334.9 624.1,332.9 624.5,331.2 625.0,328.1 625.5,325.5 626.0,322.7 626.4,321.7 626.8,320.1 627.4,317.9 627.9,320.8 628.3,323.6 628.9,329.6 629.3,334.9 629.8,336.1 630.2,338.7 630.8,337.6 631.2,334.9 631.8,332.6 632.1,331.2 632.5,335.1 633.1,336.8 633.4,341.0 634.0,342.5 634.6,339.7 634.9,338.7 635.3,332.7 635.9,325.5 636.3,323.5 636.8,323.6 637.4,327.2 637.8,331.2 638.4,328.3 638.7,327.4 639.2,323.1 639.7,317.9 640.0,315.7 640.6,315.1 641.2,317.5 641.6,317.9 642.2,322.6 642.5,329.3 643.0,331.8 643.5,333.1 643.9,326.0 644.4,317.9 644.8,315.8 645.4,316.0 645.7,318.6 646.3,323.6 646.8,329.3 647.3,334.9 647.8,329.3 648.2,325.5 648.6,333.2 649.2,342.5 649.7,346.6 650.1,348.2 650.7,348.6 651.1,351.1 651.4,353.2 652.0,352.9 652.5,352.2 652.9,350.1 653.4,351.0 653.9,352.0 654.4,352.3 654.8,352.9 655.3,350.3 655.8,350.1 656.3,349.1 656.7,346.3 657.1,345.2 657.7,344.4 658.2,346.1 658.6,348.2 659.0,349.2 659.6,352.0 660.1,351.7 660.5,353.9 661.1,356.6 661.5,357.7 662.0,357.2 662.4,354.8 662.9,353.2 663.4,352.0 663.9,350.1 664.3,348.2 664.9,346.2 665.3,342.5 665.7,340.8 666.2,336.8 666.8,336.6 667.2,334.9 667.7,339.4 668.1,344.4 668.7,353.0 669.1,359.6 669.6,366.0 670.0,370.9 670.6,368.8 670.9,367.2 671.5,367.9 671.9,370.9 672.3,367.1 672.8,363.4 673.2,358.3 673.8,353.9 674.3,351.4 674.7,348.2 675.1,353.2 675.7,355.8 676.2,360.1 676.6,365.3 677.2,369.2 677.6,372.8 678.2,372.3 678.8,372.3 679.5,367.0 679.8,360.9 680.3,356.9 680.7,351.5 681.4,346.4 681.7,343.9 682.2,342.6 682.6,340.1 683.0,338.0 683.6,336.3 683.9,333.6 684.5,332.5 685.0,338.1 685.5,345.8 685.9,350.6 686.4,353.4 686.9,357.2 687.4,360.9 688.0,362.5 688.3,363.8 688.9,361.8 689.3,359.1 689.8,353.2 690.2,349.6 690.7,346.5 691.2,342.0 691.5,340.3 692.1,336.3 692.5,337.2 693.1,338.2 693.4,342.0 694.0,345.8 694.5,339.9 694.9,336.3 695.6,334.2 695.9,332.5 696.4,334.2 696.8,335.4 697.3,338.1 697.8,342.0 698.3,345.0 698.7,347.7 699.1,350.1 699.7,351.5 700.1,353.1 700.6,357.2 701.0,358.8 701.6,362.8 701.9,365.4 702.5,366.6 703.0,369.1 703.5,369.5 704.0,367.4 704.4,367.6 705.0,367.3 705.4,364.7 705.7,366.7 706.3,366.6 706.8,363.7 707.3,360.9 707.9,356.5 708.2,353.4 708.7,352.6 709.2,349.6 709.7,351.4 710.1,353.4 710.7,356.1 711.1,357.2 711.6,352.4 712.0,349.6 712.5,346.1 712.9,342.9 713.3,340.4 713.9,340.1 714.4,341.0 714.8,343.9 715.3,348.1 715.8,351.5 716.2,348.0 716.7,345.8 717.2,341.8 717.7,338.2 718.2,340.2 718.6,342.0 719.3,340.3 719.6,336.3 720.1,337.5 720.5,340.1 720.9,338.3 721.5,334.4 722.0,335.7 722.4,336.3 722.9,332.9 723.4,330.6 723.9,329.4 724.3,327.8 724.8,327.7 725.3,326.8 725.8,328.9 726.2,332.5 726.6,337.6 727.2,340.1 727.8,336.4 728.1,330.6 728.4,322.9 729.1,317.4 729.5,312.4 730.0,307.9 730.5,302.1 730.9,298.4 731.4,294.5 731.9,292.7 732.2,294.1 732.8,294.6 733.3,299.7 733.8,304.1 734.2,307.8 734.7,311.7 735.1,314.1 735.7,317.4 736.2,320.1 736.6,321.2 737.0,317.3 737.6,315.5 738.1,314.8 738.5,313.6 739.1,317.6 739.5,323.1 739.9,327.2 740.4,332.5 741.0,328.4 741.4,324.9 741.9,322.4 742.3,317.4 742.7,315.6 743.3,313.6 743.8,315.6 744.2,315.5 744.7,317.0 745.2,319.3 745.5,321.7 746.1,322.1 746.5,318.7 747.1,317.4 747.5,315.0 748.0,312.6 748.5,311.2 748.9,310.7 749.5,312.0 749.9,315.5 750.3,314.0 750.8,311.7 751.2,309.8 751.8,308.8 752.3,312.7 752.7,315.5 753.1,319.3 753.7,324.9 754.1,326.5 754.6,326.8 755.1,326.8 755.6,328.7" fill="none" stroke="#1ea3e0" stroke-width="1.1" stroke-linejoin="round" stroke-linecap="butt" clip-path="url(#cc)"/>
<polyline points="440.5,337.4 441.0,336.0 441.4,333.6 442.0,333.0 442.4,330.7 442.9,330.6 443.3,328.8 443.6,330.7 444.3,332.6 444.9,336.2 445.2,339.3 445.8,340.9 446.1,344.0 446.6,344.9 447.1,346.8 447.6,348.4 448.0,349.7 448.4,346.7 449.0,344.9 449.4,348.6 449.9,350.6 450.5,348.1 450.9,346.8 451.4,344.7 451.8,344.0 452.3,347.5 452.8,352.5 453.1,354.2 453.7,354.4 454.1,352.4 454.7,351.6 455.3,350.4 455.6,347.8 456.0,347.3 456.6,344.9 457.1,342.9 457.5,340.2 457.9,338.7 458.5,335.5 459.0,335.9 459.4,334.5 460.0,337.4 460.4,341.2 460.8,346.2 461.3,352.5 461.7,353.6 462.3,356.3 462.7,353.7 463.2,350.6 463.5,348.6 464.1,345.9 464.6,346.9 465.1,348.7 465.7,350.6 466.0,352.5 466.5,349.6 467.0,346.8 467.5,346.9 467.9,348.7 468.6,350.6 468.9,354.4 469.4,356.5 469.8,357.3 470.2,355.5 470.8,352.5 471.2,350.3 471.7,347.8 472.1,346.4 472.7,346.8 473.1,349.6 473.6,350.6 474.0,353.0 474.6,354.4 475.2,356.7 475.5,357.3 475.9,356.5 476.5,356.3 476.9,357.8 477.4,358.2 477.8,357.3 478.4,355.4 478.9,358.9 479.3,361.1 479.6,358.6 480.3,354.4 480.6,352.7 481.2,351.6 481.7,354.8 482.1,356.3 482.6,354.3 483.1,350.6 483.6,352.6 484.0,355.4 484.5,358.5 485.0,362.9 485.3,363.7 485.9,365.8 486.5,363.9 486.9,360.1 487.3,357.3 487.8,356.3 488.5,358.8 488.8,361.1 489.2,356.3 489.7,352.5 490.2,349.4 490.7,344.9 491.1,342.7 491.6,340.8 492.0,342.3 492.6,342.1 492.9,346.4 493.5,350.6 494.1,352.3 494.5,355.4 495.0,353.9 495.4,350.6 495.9,352.6 496.4,353.5 496.7,355.7 497.3,358.2 497.7,360.8 498.3,362.0 498.7,363.3 499.2,364.8 499.8,364.6 500.1,362.9 500.8,359.5 501.1,356.3 501.6,353.9 502.0,350.6 502.5,349.7 503.0,349.7 503.4,350.4 503.9,352.5 504.4,355.9 504.9,357.3 505.5,361.8 505.8,365.8 506.3,368.8 506.8,372.4 507.1,368.6 507.7,365.8 508.3,365.1 508.7,362.9 509.1,365.9 509.6,367.7 510.2,366.7 510.6,364.8 511.1,363.5 511.5,361.1 511.9,360.5 512.5,359.2 512.9,361.0 513.4,362.9 514.0,366.6 514.4,369.6 514.8,373.3 515.3,375.3 515.8,370.7 516.3,365.8 516.6,363.0 517.2,360.1 517.5,360.7 518.0,360.6 518.5,358.4 518.9,354.9 519.5,353.2 519.9,350.2 520.3,351.9 520.8,353.1 521.4,353.2 521.8,352.1 522.2,356.1 522.7,358.7 523.3,364.8 523.7,370.1 524.3,374.8 524.6,377.7 525.1,374.9 525.6,372.0 526.0,365.1 526.5,356.8 527.1,348.3 527.5,339.8 528.0,336.0 528.4,331.3 528.8,333.9 529.0,337.9 529.5,355.1 529.7,372.0 530.2,378.5 530.5,385.3 530.9,371.6 531.3,356.8 531.7,342.6 532.0,327.5 532.3,332.0 532.8,337.9 533.1,345.8 533.5,353.1 533.8,349.6 534.3,345.5 534.7,344.1 535.1,344.5 535.4,353.0 535.8,362.5 536.1,367.0 536.6,372.9 536.9,369.0 537.3,366.3 537.6,373.9 538.1,383.4 538.5,376.5 538.8,370.1 539.3,365.5 539.6,360.6 539.9,364.3 540.4,366.3 540.6,364.2 541.1,362.5 541.4,360.9 541.9,359.7 542.1,364.1 542.6,367.3 543.0,368.2 543.4,371.1 543.8,368.8 544.1,368.2 544.5,369.8 544.9,372.0 545.3,366.8 545.7,359.7 546.1,364.3 546.4,369.2 546.9,371.3 547.2,372.9 547.5,370.8 547.9,370.1 548.3,371.2 548.7,372.0 549.2,368.2 549.5,362.5 549.9,355.6 550.2,349.3 550.8,346.8 551.2,346.4 551.5,348.0 552.1,349.3 552.6,354.2 553.1,360.6 553.6,364.3 554.0,366.3 554.4,365.2 554.9,364.4 555.3,359.3 555.9,354.9 556.5,351.4 556.8,348.3 557.5,347.7 557.8,345.5 558.3,345.5 558.7,346.4 559.4,348.8 559.7,351.2 560.1,353.6 560.6,356.8 561.3,359.7 561.6,362.5 562.0,364.4 562.5,366.3 562.9,368.5 563.5,370.1 563.9,372.5 564.4,375.8 565.0,375.0 565.4,372.9 565.7,371.1 566.3,369.2 566.7,367.7 567.3,364.4 567.8,360.1 568.2,356.8 568.6,353.8 569.2,352.1 569.8,352.6 570.1,354.0 570.6,356.8 571.1,359.7 571.6,363.2 572.0,366.3 572.5,363.7 572.9,362.5 573.5,359.8 573.9,357.8 574.4,356.0 574.8,354.9 575.3,353.6 575.8,352.1 576.3,350.9 576.7,350.2 577.3,349.0 577.7,347.4 578.0,344.0 578.6,341.7 579.1,342.0 579.6,340.7 580.2,343.2 580.5,345.5 580.9,348.4 581.5,350.2 581.9,351.8 582.4,353.1 583.0,351.4 583.4,349.3 583.8,348.7 584.3,346.4 584.8,348.1 585.3,350.2 585.8,351.0 586.2,353.1 586.6,355.6 587.2,356.8 587.5,360.4 588.1,362.5 588.6,364.3 589.1,366.3 589.5,364.0 590.0,360.6 590.6,356.1 590.9,353.1 591.4,349.8 591.9,346.4 592.4,345.1 592.8,344.5 593.2,348.0 593.8,351.2 594.4,353.1 594.7,356.8 595.1,355.1 595.7,352.1 596.2,355.7 596.6,358.7 597.0,360.1 597.6,360.6 598.2,358.8 598.5,354.9 599.1,352.2 599.5,351.2 600.3,347.2 600.8,344.4 601.4,343.4 601.8,340.6 602.3,340.8 602.7,342.5 603.1,346.2 603.7,348.2 604.1,352.2 604.6,355.8 605.1,358.9 605.6,363.4 606.1,361.5 606.5,361.5 606.9,356.5 607.5,352.0 607.8,347.3 608.4,344.4 608.9,341.1 609.4,336.8 610.0,332.8 610.3,330.2 610.8,328.9 611.3,328.3 611.8,329.7 612.2,331.2 612.8,333.3 613.2,335.9 613.5,332.5 614.1,328.3 614.5,328.1 615.1,327.4 615.5,332.0 616.0,334.9 616.5,338.0 616.9,340.6 617.4,337.9 617.9,334.9 618.3,337.3 618.8,338.7 619.3,341.8 619.8,346.3 620.2,348.0 620.7,350.1 621.3,347.1 621.7,345.4 622.2,348.5 622.6,351.1 623.0,352.3 623.6,352.9 623.9,348.9 624.5,346.3 625.0,343.4 625.5,341.6 626.1,340.1 626.4,338.7 626.8,341.2 627.4,342.5 627.7,349.6 628.3,355.8 628.7,349.9 629.3,345.4 629.9,343.4 630.2,340.6 630.6,340.8 631.2,342.5 631.8,344.3 632.1,345.4 632.7,341.3 633.1,338.7 633.6,336.1 634.0,334.0 634.4,331.3 634.9,329.3 635.5,326.1 635.9,323.6 636.3,320.0 636.8,317.9 637.4,316.8 637.8,315.1 638.4,315.4 638.7,316.0 639.3,322.7 639.7,329.3 640.2,332.3 640.6,334.9 641.2,336.6 641.6,338.7 641.9,339.7 642.5,342.5 642.9,343.0 643.5,345.4 644.1,340.1 644.4,334.9 645.0,324.9 645.4,316.9 645.8,319.1 646.3,319.8 646.8,328.2 647.3,336.8 647.7,344.1 648.2,352.9 648.6,348.0 649.2,344.4 649.6,342.3 650.1,340.6 650.7,339.0 651.1,338.7 651.5,337.3 652.0,336.8 652.4,335.5 652.9,334.9 653.3,333.5 653.9,332.1 654.2,332.0 654.8,330.2 655.3,331.6 655.8,331.2 656.3,332.9 656.7,334.0 657.2,336.3 657.7,336.8 658.0,338.1 658.6,338.7 659.0,340.0 659.6,340.6 660.1,341.9 660.5,344.4 660.9,343.9 661.5,345.4 661.9,342.2 662.4,340.6 662.9,339.7 663.4,336.8 663.8,335.5 664.3,334.9 664.8,331.7 665.3,329.3 665.8,329.2 666.2,328.3 666.6,329.2 667.2,331.2 667.7,335.8 668.1,338.7 668.6,345.2 669.1,352.0 669.7,357.6 670.0,365.3 670.3,363.9 670.9,361.5 671.4,355.8 671.9,352.0 672.4,349.2 672.8,344.4 673.3,341.3 673.8,338.7 674.1,338.8 674.7,340.6 675.3,345.4 675.7,350.1 676.3,353.0 676.6,357.7 677.0,360.1 677.6,364.3 678.2,359.5 678.8,356.5 679.2,352.6 679.8,348.9 680.2,344.3 680.7,341.4 681.1,339.5 681.7,335.7 682.1,333.8 682.6,331.9 683.1,331.0 683.6,330.0 683.9,330.6 684.5,331.9 684.9,333.9 685.5,335.7 686.1,341.6 686.4,347.1 687.0,350.3 687.4,354.6 687.7,356.1 688.3,357.5 688.8,355.2 689.3,352.7 689.7,349.2 690.2,345.2 690.8,343.1 691.2,339.5 691.6,338.4 692.1,337.6 692.7,338.4 693.1,340.4 693.4,342.9 694.0,346.1 694.3,344.3 694.9,341.4 695.5,338.6 695.9,336.6 696.3,336.3 696.8,337.6 697.2,340.1 697.8,344.2 698.2,346.3 698.7,348.0 699.1,349.0 699.7,351.8 700.2,354.2 700.6,358.4 701.0,360.8 701.6,364.1 702.0,365.2 702.5,367.9 703.0,368.5 703.5,369.8 704.0,368.5 704.4,366.9 705.0,364.9 705.4,362.2 705.9,365.2 706.3,367.9 706.8,370.4 707.3,371.7 707.8,368.8 708.2,364.1 708.8,359.3 709.2,353.7 709.6,353.4 710.1,351.8 710.5,364.8 711.1,379.3 711.4,372.9 712.0,367.9 712.4,360.7 712.9,352.7 713.4,348.1 713.9,345.2 714.4,343.4 714.8,341.4 715.2,346.2 715.8,352.7 716.2,358.1 716.7,364.1 717.3,365.5 717.7,365.1 718.2,362.1 718.6,360.3 719.1,358.1 719.6,356.5 720.0,356.5 720.5,358.4 721.0,356.7 721.5,353.7 722.0,352.4 722.4,352.7 722.9,352.6 723.4,353.7 723.9,352.9 724.3,352.4 724.9,353.1 725.3,352.7 725.6,352.8 726.2,353.7 726.8,358.8 727.2,364.1 727.6,369.7 728.1,375.5 728.7,378.7 729.1,380.2 729.5,382.1 730.0,382.1 730.5,377.0 730.9,373.6 731.5,370.1 731.9,366.9 732.2,367.4 732.8,366.0 733.2,369.0 733.8,371.7 734.3,372.0 734.7,370.7 735.2,375.4 735.7,381.2 736.1,384.3 736.6,388.7 737.1,389.4 737.6,390.6 738.1,387.7 738.5,385.9 739.0,388.7 739.5,392.5 740.1,397.9 740.4,402.0 741.0,402.7 741.4,402.9 741.8,398.0 742.3,394.4 742.9,393.5 743.3,392.5 743.6,390.0 744.2,388.7 744.6,387.3 745.2,384.9 745.8,385.3 746.1,386.8 746.7,387.4 747.1,388.7 747.6,389.0 748.0,387.8 748.5,386.0 748.9,383.1 749.4,380.7 749.9,380.2 750.4,380.9 750.8,381.2 751.2,376.2 751.8,371.7 752.2,367.9 752.7,366.0 753.2,364.8 753.7,364.1 754.2,363.6 754.6,362.2 755.1,361.3 755.6,358.4" fill="none" stroke="#ea7035" stroke-width="1.15" stroke-linejoin="round" stroke-linecap="butt" clip-path="url(#cc)"/>
<polyline points="440.5,355.4 441.1,354.6 441.8,353.5 442.7,352.4 443.3,351.6 444.1,351.1 444.8,350.3 445.6,349.5 446.5,348.7 447.0,350.9 447.5,351.6 447.8,349.2 448.4,347.8 448.8,350.0 449.4,350.6 449.9,347.5 450.3,346.8 450.9,350.4 451.3,351.6 451.8,350.5 452.2,348.7 452.6,346.1 453.2,345.9 453.6,346.6 454.1,349.7 454.5,347.6 455.1,346.8 455.4,344.9 456.0,343.1 456.3,340.2 456.6,335.5 457.0,333.5 457.5,330.7 458.0,330.7 458.5,329.8 458.9,331.6 459.4,334.5 460.0,338.2 460.4,339.3 460.9,342.2 461.3,344.0 461.7,344.2 462.3,345.9 462.7,342.4 463.2,341.2 463.8,339.5 464.1,338.3 464.7,339.9 465.1,342.1 465.7,341.6 466.0,339.3 466.4,337.1 467.0,336.4 467.6,338.2 467.9,340.2 468.6,337.6 468.9,335.5 469.2,337.2 469.8,338.3 470.4,335.8 470.8,334.5 471.1,336.5 471.7,339.3 472.3,342.3 472.7,344.0 473.0,340.0 473.6,337.4 474.0,334.8 474.6,334.5 475.1,332.3 475.5,331.7 476.0,333.4 476.5,335.5 476.8,333.7 477.4,330.7 477.8,329.2 478.4,326.9 478.7,330.1 479.3,333.6 479.7,330.1 480.3,327.9 480.9,327.3 481.2,325.1 481.6,327.9 482.1,328.8 482.5,330.5 483.1,332.6 483.7,335.4 484.0,337.4 484.4,335.3 485.0,330.7 485.4,328.7 485.9,327.9 486.5,326.0 486.9,325.1 487.3,322.5 487.8,322.2 488.2,320.5 488.8,318.4 489.2,316.8 489.7,314.6 490.2,312.1 490.7,309.9 491.3,313.2 491.6,316.5 492.1,320.8 492.6,323.2 492.9,325.6 493.5,329.8 494.1,326.4 494.5,321.3 494.9,319.0 495.4,318.4 496.0,323.4 496.4,326.0 496.7,323.4 497.3,318.4 497.9,320.1 498.3,321.3 498.7,322.6 499.2,326.0 499.5,321.5 500.1,314.6 500.5,312.8 501.1,309.9 501.5,312.2 502.0,312.7 502.5,314.6 503.0,317.5 503.4,314.7 503.9,310.8 504.3,312.0 504.9,314.6 505.4,319.8 505.8,323.2 506.3,318.3 506.8,314.6 507.4,311.0 507.7,308.9 508.1,311.2 508.7,314.6 509.1,310.2 509.6,308.0 510.0,303.4 510.6,299.5 511.1,296.6 511.5,295.7 511.9,298.6 512.5,299.5 513.1,302.3 513.4,304.2 513.9,301.6 514.4,298.5 514.7,294.9 515.3,293.8 515.6,293.0 516.3,290.0 516.5,285.8 516.6,279.3 517.0,279.1 517.6,278.3 518.0,281.3 518.5,283.1 518.7,285.4 518.9,285.1 519.3,288.0 519.9,290.7 520.4,295.6 520.8,298.3 521.4,302.6 521.8,305.9 522.4,307.9 522.7,307.8 523.2,305.4 523.7,302.1 524.3,296.4 524.6,288.8 525.1,282.0 525.6,273.7 526.2,270.1 526.5,266.1 527.0,272.4 527.5,279.4 528.0,292.0 528.4,304.0 528.8,309.6 529.4,314.4 530.0,293.1 530.3,269.9 530.7,257.3 530.9,245.3 531.3,262.5 531.6,279.4 532.0,296.4 532.4,311.6 532.7,310.3 533.2,307.8 533.5,302.4 534.1,296.4 534.6,290.0 535.1,285.1 535.6,277.5 536.0,269.9 536.5,261.5 536.9,250.9 537.3,249.2 537.7,250.0 538.0,258.5 538.5,266.1 538.8,271.9 539.2,279.4 539.7,272.2 540.0,264.2 540.3,263.3 540.7,260.4 541.1,264.2 541.5,267.1 541.8,264.5 542.3,262.3 542.7,266.2 543.0,268.0 543.5,264.9 543.8,262.3 544.2,259.9 544.5,258.5 544.8,261.4 545.3,264.2 545.8,268.4 546.0,270.8 546.5,266.8 546.8,260.4 547.1,256.7 547.6,254.7 547.9,251.8 548.3,250.0 548.7,247.9 549.3,246.2 549.8,249.5 550.2,252.8 550.6,261.3 551.2,268.0 551.8,276.4 552.1,285.1 552.5,276.3 553.1,269.9 553.6,263.5 554.0,259.5 554.5,259.2 554.9,258.5 555.4,263.1 555.9,266.1 556.2,270.8 556.8,277.5 557.3,279.6 557.8,284.1 558.4,279.2 558.7,275.6 559.1,269.7 559.7,266.1 560.2,263.1 560.6,260.4 561.1,258.9 561.6,256.6 562.1,258.3 562.5,257.6 563.1,251.6 563.5,247.2 563.9,244.0 564.4,242.4 564.7,243.8 565.4,245.3 565.9,248.2 566.3,252.8 566.7,256.2 567.3,260.4 567.8,265.2 568.2,269.9 568.7,273.9 569.2,276.5 569.6,272.1 570.1,266.1 570.7,261.7 571.1,259.5 571.7,260.5 572.0,260.4 572.4,261.2 572.9,262.3 573.5,269.1 573.9,273.7 574.3,275.3 574.8,276.5 575.4,278.2 575.8,278.4 576.4,279.7 576.7,281.3 577.3,281.9 577.7,284.1 578.2,286.8 578.6,287.9 579.1,286.6 579.6,284.1 580.0,283.3 580.5,280.3 581.1,280.1 581.5,277.5 582.0,279.2 582.4,279.4 582.8,281.9 583.4,282.2 583.9,280.4 584.3,279.4 584.7,282.5 585.3,286.0 585.8,286.2 586.2,285.1 586.7,279.1 587.2,275.6 587.7,270.2 588.1,267.1 588.7,264.3 589.1,263.3 589.5,264.5 590.0,264.2 590.4,267.6 590.9,272.7 591.4,279.5 591.9,285.1 592.5,281.8 592.8,277.5 593.4,273.7 593.8,269.9 594.4,274.5 594.7,281.3 595.1,275.6 595.7,269.9 596.1,270.0 596.6,268.9 597.1,274.2 597.6,279.4 598.2,281.4 598.5,283.2 598.9,283.8 599.5,285.1 600.3,295.9 600.8,304.6 601.2,303.6 601.8,300.8 602.4,296.2 602.7,291.4 603.2,287.7 603.7,285.7 604.2,286.2 604.6,286.6 605.1,286.4 605.6,288.5 606.2,293.8 606.5,298.9 607.0,304.5 607.5,308.4 608.0,313.1 608.4,317.9 609.0,320.6 609.4,325.5 609.9,323.4 610.3,321.7 610.9,319.0 611.3,314.1 611.7,312.1 612.2,310.3 612.6,311.6 613.2,313.2 613.7,315.6 614.1,316.0 614.6,311.7 615.1,308.4 615.4,306.4 616.0,303.7 616.6,305.1 616.9,308.4 617.5,304.3 617.9,302.7 618.3,303.9 618.8,306.5 619.4,308.9 619.8,312.2 620.2,315.4 620.7,317.9 621.1,320.4 621.7,321.7 622.0,324.6 622.6,327.4 623.0,330.4 623.6,334.9 624.1,332.9 624.5,331.2 625.0,328.1 625.5,325.5 626.0,322.7 626.4,321.7 626.8,320.1 627.4,317.9 627.9,320.8 628.3,323.6 628.9,329.6 629.3,334.9 629.8,336.1 630.2,338.7 630.8,337.6 631.2,334.9 631.8,332.6 632.1,331.2 632.5,335.1 633.1,336.8 633.4,341.0 634.0,342.5 634.6,339.7 634.9,338.7 635.3,332.7 635.9,325.5 636.3,323.5 636.8,323.6 637.4,327.2 637.8,331.2 638.4,328.3 638.7,327.4 639.2,323.1 639.7,317.9 640.0,315.7 640.6,315.1 641.2,317.5 641.6,317.9 642.2,322.6 642.5,329.3 643.0,331.8 643.5,333.1 643.9,326.0 644.4,317.9 644.8,315.8 645.4,316.0 645.7,318.6 646.3,323.6 646.8,329.3 647.3,334.9 647.8,329.3 648.2,325.5 648.6,333.2 649.2,342.5 649.7,346.6 650.1,348.2 650.7,348.6 651.1,351.1 651.4,353.2 652.0,352.9 652.5,352.2 652.9,350.1 653.4,351.0 653.9,352.0 654.4,352.3 654.8,352.9 655.3,350.3 655.8,350.1 656.3,349.1 656.7,346.3 657.1,345.2 657.7,344.4 658.2,346.1 658.6,348.2 659.0,349.2 659.6,352.0 660.1,351.7 660.5,353.9 661.1,356.6 661.5,357.7 662.0,357.2 662.4,354.8 662.9,353.2 663.4,352.0 663.9,350.1 664.3,348.2 664.9,346.2 665.3,342.5 665.7,340.8 666.2,336.8 666.8,336.6 667.2,334.9 667.7,339.4 668.1,344.4 668.7,353.0 669.1,359.6 669.6,366.0 670.0,370.9 670.6,368.8 670.9,367.2 671.5,367.9 671.9,370.9 672.3,367.1 672.8,363.4 673.2,358.3 673.8,353.9 674.3,351.4 674.7,348.2 675.1,353.2 675.7,355.8 676.2,360.1 676.6,365.3 677.2,369.2 677.6,372.8 678.2,372.3 678.8,372.3 679.5,367.0 679.8,360.9 680.3,356.9 680.7,351.5 681.4,346.4 681.7,343.9 682.2,342.6 682.6,340.1 683.0,338.0 683.6,336.3 683.9,333.6 684.5,332.5 685.0,338.1 685.5,345.8 685.9,350.6 686.4,353.4 686.9,357.2 687.4,360.9 688.0,362.5 688.3,363.8 688.9,361.8 689.3,359.1 689.8,353.2 690.2,349.6 690.7,346.5 691.2,342.0 691.5,340.3 692.1,336.3 692.5,337.2 693.1,338.2 693.4,342.0 694.0,345.8 694.5,339.9 694.9,336.3 695.6,334.2 695.9,332.5 696.4,334.2 696.8,335.4 697.3,338.1 697.8,342.0 698.3,345.0 698.7,347.7 699.1,350.1 699.7,351.5 700.1,353.1 700.6,357.2 701.0,358.8 701.6,362.8 701.9,365.4 702.5,366.6 703.0,369.1 703.5,369.5 704.0,367.4 704.4,367.6 705.0,367.3 705.4,364.7 705.7,366.7 706.3,366.6 706.8,363.7 707.3,360.9 707.9,356.5 708.2,353.4 708.7,352.6 709.2,349.6 709.7,351.4 710.1,353.4 710.7,356.1 711.1,357.2 711.6,352.4 712.0,349.6 712.5,346.1 712.9,342.9 713.3,340.4 713.9,340.1 714.4,341.0 714.8,343.9 715.3,348.1 715.8,351.5 716.2,348.0 716.7,345.8 717.2,341.8 717.7,338.2 718.2,340.2 718.6,342.0 719.3,340.3 719.6,336.3 720.1,337.5 720.5,340.1 720.9,338.3 721.5,334.4 722.0,335.7 722.4,336.3 722.9,332.9 723.4,330.6 723.9,329.4 724.3,327.8 724.8,327.7 725.3,326.8 725.8,328.9 726.2,332.5 726.6,337.6 727.2,340.1 727.8,336.4 728.1,330.6 728.4,322.9 729.1,317.4 729.5,312.4 730.0,307.9 730.5,302.1 730.9,298.4 731.4,294.5 731.9,292.7 732.2,294.1 732.8,294.6 733.3,299.7 733.8,304.1 734.2,307.8 734.7,311.7 735.1,314.1 735.7,317.4 736.2,320.1 736.6,321.2 737.0,317.3 737.6,315.5 738.1,314.8 738.5,313.6 739.1,317.6 739.5,323.1 739.9,327.2 740.4,332.5 741.0,328.4 741.4,324.9 741.9,322.4 742.3,317.4 742.7,315.6 743.3,313.6 743.8,315.6 744.2,315.5 744.7,317.0 745.2,319.3 745.5,321.7 746.1,322.1 746.5,318.7 747.1,317.4 747.5,315.0 748.0,312.6 748.5,311.2 748.9,310.7 749.5,312.0 749.9,315.5 750.3,314.0 750.8,311.7 751.2,309.8 751.8,308.8 752.3,312.7 752.7,315.5 753.1,319.3 753.7,324.9 754.1,326.5 754.6,326.8 755.1,326.8 755.6,328.7" fill="none" stroke="#1ea3e0" stroke-width="1.1" stroke-linejoin="round" stroke-linecap="butt" clip-path="url(#cc)" stroke-opacity="0.45"/>
<polyline points="440.6,354.2 442.2,354.6 443.7,354.9 445.3,355.1 446.9,355.1 448.5,355.1 450.0,354.9 451.6,354.7 453.2,354.3 454.8,353.8 456.3,353.3 457.9,352.6 459.5,351.9 461.1,351.0 462.6,350.1 464.2,349.1 465.8,348.1 467.4,346.9 468.9,345.7 470.5,344.4 472.1,343.1 473.7,341.7 475.2,340.2 476.8,338.7 478.4,337.1 480.0,335.5 481.5,333.9 483.1,332.2 484.7,330.4 486.3,328.6 487.8,326.8 489.4,325.0 491.0,323.1 492.6,321.3 494.1,319.4 495.7,317.5 497.3,315.5 498.9,313.6 500.4,311.6 502.0,309.7 503.6,307.8 505.2,305.8 506.7,303.9 508.3,302.0 509.9,300.1 511.5,298.2 513.0,296.3 514.6,294.4 516.2,292.6 517.8,290.8 519.3,289.1 520.9,287.3 522.5,285.7 524.0,284.0 525.6,282.4 527.2,280.9 528.8,279.4 530.3,277.9 531.9,276.6 533.5,275.2 535.1,274.0 536.6,272.8 538.2,271.7 539.8,270.6 541.4,269.7 542.9,268.8 544.5,268.0 546.1,267.3 547.7,266.7 549.2,266.1 550.8,265.7 552.4,265.4 554.0,265.1 555.5,264.9 557.1,264.9 558.7,264.9 560.3,265.0 561.8,265.2 563.4,265.5 565.0,265.8 566.6,266.2 568.1,266.8 569.7,267.4 571.3,268.0 572.9,268.8 574.4,269.6 576.0,270.5 577.6,271.5 579.2,272.6 580.7,273.7 582.3,274.9 583.9,276.2 585.5,277.5 587.0,278.9 588.6,280.4 590.2,281.9 591.8,283.6 593.3,285.2 594.9,286.9 596.5,288.7 598.0,290.5 599.6,292.4 601.2,294.2 602.8,296.2 604.3,298.1 605.9,300.0 607.5,302.0 609.1,303.9 610.6,305.9 612.2,307.9 613.8,309.8 615.4,311.8 616.9,313.7 618.5,315.6 620.1,317.5 621.7,319.3 623.2,321.2 624.8,323.0 626.4,324.7 628.0,326.4 629.5,328.1 631.1,329.7 632.7,331.3 634.3,332.9 635.8,334.4 637.4,335.8 639.0,337.3 640.6,338.6 642.1,339.9 643.7,341.2 645.3,342.4 646.9,343.6 648.4,344.7 650.0,345.8 651.6,346.8 653.2,347.8 654.7,348.7 656.3,349.6 657.9,350.4 659.5,351.1 661.0,351.8 662.6,352.4 664.2,353.0 665.8,353.5 667.3,354.0 668.9,354.3 670.5,354.7 672.1,354.9 673.6,355.1 675.2,355.3 676.8,355.3 678.3,355.3 679.9,355.2 681.5,355.1 683.1,354.9 684.6,354.6 686.2,354.2 687.8,353.8 689.4,353.3 690.9,352.7 692.5,352.1 694.1,351.4 695.7,350.5 697.2,349.7 698.8,348.7 700.4,347.7 702.0,346.6 703.5,345.4 705.1,344.2 706.7,343.0 708.3,341.6 709.8,340.3 711.4,338.8 713.0,337.4 714.6,335.8 716.1,334.3 717.7,332.7 719.3,331.1 720.9,329.4 722.4,327.7 724.0,326.1 725.6,324.3 727.2,322.6 728.7,320.8 730.3,319.1 731.9,317.3 733.5,315.5 735.0,313.8 736.6,312.0 738.2,310.2 739.8,308.5 741.3,306.7 742.9,305.0 744.5,303.3 746.1,301.6 747.6,299.9 749.2,298.3 750.8,296.6 752.4,295.1 753.9,293.5 755.5,292.0" fill="none" stroke="#0b4ea2" stroke-width="1.4" stroke-linejoin="round" stroke-linecap="butt" clip-path="url(#cc)"/>
<polyline points="440.6,281.3 441.2,281.3 441.5,289.2 441.9,294.1 442.2,297.7 442.5,300.5 442.8,302.7 443.1,304.6 443.4,306.1 443.7,307.5 444.1,308.7 444.4,309.8 444.7,310.7 445.0,311.6 445.3,312.4 445.6,313.1 446.0,313.8 446.3,314.4 446.6,315.0 446.9,315.5 447.2,315.5 447.5,315.5 447.8,315.5 448.2,315.5 448.5,315.5 448.8,315.5 449.1,315.5 449.4,315.5 449.7,315.5 450.0,315.5 450.4,315.5 450.7,315.5 451.0,315.5 451.3,315.5 451.6,315.5 451.9,315.5 452.3,315.5 452.6,315.5 452.9,315.5 453.2,315.5 453.5,315.2 454.5,314.1 455.7,312.7 457.0,311.5 458.2,310.2 459.5,309.1 460.8,307.9 462.0,306.9 463.3,305.8 464.5,304.8 465.8,303.8 467.1,302.9 468.3,302.0 469.6,301.1 470.8,300.2 472.1,299.3 473.3,298.5 474.6,297.7 475.9,296.9 477.1,296.1 478.4,295.3 479.6,294.6 480.9,293.8 482.2,293.1 483.4,292.4 484.7,291.7 485.9,291.0 487.2,290.3 488.5,289.7 489.7,289.0 491.0,288.4 492.2,287.7 493.5,287.1 494.8,286.5 496.0,285.9 497.3,285.3 498.5,284.7 499.8,284.1 501.1,283.5 502.3,282.9 503.6,282.3 504.8,281.8 506.1,281.2 507.4,280.7 508.6,280.1 509.9,279.6 511.1,279.1 512.4,278.5 513.7,278.0 514.9,277.5 516.2,277.0 517.4,276.5 518.7,276.0 520.0,275.5 521.2,275.0 522.5,274.5 523.7,274.0 525.0,273.5 526.3,273.1 527.5,272.6 528.8,272.1 530.0,271.7 531.3,271.2 532.6,270.7 533.8,270.3 535.1,269.8 536.3,269.4 537.6,269.0 538.8,268.5 540.1,268.1 541.4,267.6 542.6,267.2 543.9,266.8 545.1,266.4 546.4,265.9 547.7,265.5 548.9,265.1 550.2,264.7 551.4,264.3 552.7,263.9 554.0,263.5 555.2,263.1 556.5,262.7 557.7,262.3 559.0,261.9 560.3,261.5 561.5,261.1 562.8,260.7 564.0,260.3 565.3,259.9 566.6,259.5 567.8,259.1 569.1,258.8 570.3,258.4 571.6,258.0 572.9,257.6 574.1,257.3 575.4,256.9 576.6,256.5 577.9,256.2 579.2,255.8 580.4,255.5 581.7,255.1 582.9,254.7 584.2,254.4 585.5,254.0 586.7,253.7 588.0,253.4 589.2,253.0 590.5,252.7 591.8,252.3 593.0,252.0 594.3,251.7 595.5,251.4 596.8,251.1 598.0,250.8 599.3,250.5 600.6,250.2 601.8,249.9 603.1,249.6 604.3,249.3 605.6,249.1 606.9,248.8 608.1,248.6 609.4,248.4 610.6,248.2 611.9,248.0 613.2,247.8 614.4,247.6 615.7,247.5 616.9,247.3 618.2,247.2 619.5,247.1 620.7,247.0 622.0,246.9 623.2,246.8 624.5,246.8 625.8,246.7 627.0,246.6 628.3,246.6 629.5,246.5 630.8,246.5 632.1,246.5 633.3,246.5 634.6,246.4 635.8,246.4 637.1,246.4 638.4,246.4 639.6,246.4 640.9,246.3 642.1,246.3 643.4,246.3 644.7,246.3 645.9,246.3 647.2,246.3 648.4,246.3 649.7,246.3 651.0,246.3 652.2,246.3 653.5,246.3 654.7,246.3 656.0,246.3 657.3,246.3 658.5,246.3 659.8,246.3 661.0,246.3 662.3,246.3 663.5,246.3 664.8,246.3 666.1,246.3 667.3,246.3 668.6,246.3 669.8,246.3 671.1,246.3 672.4,246.3 673.6,246.3 674.9,246.3 676.1,246.3 677.4,246.3 678.7,246.3 679.9,246.3 681.2,246.3 682.4,246.3 683.7,246.3 685.0,246.3 686.2,246.3 687.5,246.3 688.7,246.3 690.0,246.3 691.3,246.3 692.5,246.3 693.8,246.3 695.0,246.3 696.3,246.3 697.6,246.3 698.8,246.3 700.1,246.3 701.3,246.3 702.6,246.3 703.9,246.3 705.1,246.3 706.4,246.3 707.6,246.3 708.9,246.3 710.2,246.3 711.4,246.3 712.7,246.3 713.9,246.3 715.2,246.3 716.5,246.3 717.7,246.3 719.0,246.3 720.2,246.3 721.5,246.3 722.8,246.3 724.0,246.3 725.3,246.3 726.5,246.3 727.8,246.3 729.0,246.3 730.3,246.3 731.6,246.3 732.8,246.3 734.1,246.3 735.3,246.3 736.6,246.3 737.9,246.3 739.1,246.3 740.4,246.3 741.6,246.3 742.9,246.3 744.2,246.3 745.4,246.3 746.7,246.3 747.9,246.3 749.2,246.3 750.5,246.3 751.7,246.3 753.0,246.3 754.2,246.3 755.5,246.3" fill="none" stroke="#d7323d" stroke-width="1.15" stroke-linejoin="round" stroke-linecap="butt" />
<polyline points="440.6,415.3 441.2,415.3 441.5,410.0 441.9,406.5 442.2,403.9 442.5,401.9 442.8,400.2 443.1,398.8 443.4,397.6 443.7,396.6 444.1,395.7 444.4,394.9 444.7,394.1 445.0,393.4 445.3,392.8 445.6,392.2 446.0,391.7 446.3,391.2 446.6,390.8 446.9,390.3 447.2,390.3 447.5,390.3 447.8,390.3 448.2,390.3 448.5,390.3 448.8,390.3 449.1,390.3 449.4,390.3 449.7,390.3 450.0,390.3 450.4,390.3 450.7,390.3 451.0,390.3 451.3,390.3 451.6,390.3 451.9,390.3 452.3,390.3 452.6,390.3 452.9,390.3 453.2,390.3 453.5,390.6 454.5,391.5 455.7,392.5 457.0,393.5 458.2,394.5 459.5,395.4 460.8,396.3 462.0,397.1 463.3,397.9 464.5,398.6 465.8,399.4 467.1,400.1 468.3,400.8 469.6,401.4 470.8,402.1 472.1,402.7 473.3,403.3 474.6,403.9 475.9,404.5 477.1,405.1 478.4,405.6 479.6,406.2 480.9,406.7 482.2,407.2 483.4,407.7 484.7,408.2 485.9,408.7 487.2,409.2 488.5,409.6 489.7,410.1 491.0,410.5 492.2,411.0 493.5,411.4 494.8,411.8 496.0,412.3 497.3,412.7 498.5,413.1 499.8,413.5 501.1,413.9 502.3,414.3 503.6,414.6 504.8,415.0 506.1,415.4 507.4,415.8 508.6,416.1 509.9,416.5 511.1,416.8 512.4,417.2 513.7,417.5 514.9,417.9 516.2,418.2 517.4,418.5 518.7,418.9 520.0,419.2 521.2,419.5 522.5,419.8 523.7,420.1 525.0,420.4 526.3,420.7 527.5,421.0 528.8,421.3 530.0,421.6 531.3,421.9 532.6,422.2 533.8,422.5 535.1,422.8 536.3,423.1 537.6,423.4 538.8,423.6 540.1,423.9 541.4,424.2 542.6,424.5 543.9,424.7 545.1,425.0 546.4,425.2 547.7,425.5 548.9,425.8 550.2,426.0 551.4,426.3 552.7,426.5 554.0,426.8 555.2,427.0 556.5,427.3 557.7,427.5 559.0,427.7 560.3,428.0 561.5,428.2 562.8,428.5 564.0,428.7 565.3,428.9 566.6,429.1 567.8,429.4 569.1,429.6 570.3,429.8 571.6,430.0 572.9,430.3 574.1,430.5 575.4,430.7 576.6,430.9 577.9,431.1 579.2,431.3 580.4,431.5 581.7,431.7 582.9,431.9 584.2,432.1 585.5,432.3 586.7,432.5 588.0,432.7 589.2,432.9 590.5,433.1 591.8,433.2 593.0,433.4 594.3,433.6 595.5,433.8 596.8,433.9 598.0,434.1 599.3,434.3 600.6,434.4 601.8,434.6 603.1,434.7 604.3,434.9 605.6,435.0 606.9,435.1 608.1,435.3 609.4,435.4 610.6,435.5 611.9,435.6 613.2,435.7 614.4,435.9 615.7,436.0 616.9,436.1 618.2,436.2 619.5,436.2 620.7,436.3 622.0,436.4 623.2,436.5 624.5,436.6 625.8,436.6 627.0,436.7 628.3,436.8 629.5,436.8 630.8,436.9 632.1,436.9 633.3,437.0 634.6,437.0 635.8,437.0 637.1,437.1 638.4,437.1 639.6,437.2 640.9,437.2 642.1,437.2 643.4,437.2 644.7,437.3 645.9,437.3 647.2,437.3 648.4,437.3 649.7,437.4 651.0,437.4 652.2,437.4 653.5,437.4 654.7,437.4 656.0,437.4 657.3,437.4 658.5,437.4 659.8,437.5 661.0,437.5 662.3,437.5 663.5,437.5 664.8,437.5 666.1,437.5 667.3,437.5 668.6,437.5 669.8,437.5 671.1,437.5 672.4,437.5 673.6,437.5 674.9,437.5 676.1,437.5 677.4,437.5 678.7,437.5 679.9,437.5 681.2,437.6 682.4,437.6 683.7,437.6 685.0,437.6 686.2,437.6 687.5,437.6 688.7,437.6 690.0,437.6 691.3,437.6 692.5,437.6 693.8,437.6 695.0,437.6 696.3,437.6 697.6,437.6 698.8,437.6 700.1,437.6 701.3,437.6 702.6,437.6 703.9,437.6 705.1,437.6 706.4,437.6 707.6,437.6 708.9,437.6 710.2,437.6 711.4,437.6 712.7,437.6 713.9,437.6 715.2,437.6 716.5,437.6 717.7,437.6 719.0,437.6 720.2,437.6 721.5,437.6 722.8,437.6 724.0,437.6 725.3,437.6 726.5,437.6 727.8,437.6 729.0,437.6 730.3,437.6 731.6,437.6 732.8,437.6 734.1,437.6 735.3,437.6 736.6,437.6 737.9,437.6 739.1,437.6 740.4,437.6 741.6,437.6 742.9,437.6 744.2,437.6 745.4,437.6 746.7,437.6 747.9,437.6 749.2,437.6 750.5,437.6 751.7,437.6 753.0,437.6 754.2,437.6 755.5,437.6" fill="none" stroke="#d7323d" stroke-width="1.15" stroke-linejoin="round" stroke-linecap="butt" />
<path d="M440.6 222.4H755.5V454.5H440.6Z" fill="none" stroke="#231f20" stroke-width="1"/>
<line x1="472.1" y1="454.5" x2="472.1" y2="449.3" stroke="#231f20" stroke-width="0.9"/>
<line x1="503.6" y1="454.5" x2="503.6" y2="449.3" stroke="#231f20" stroke-width="0.9"/>
<line x1="535.1" y1="454.5" x2="535.1" y2="449.3" stroke="#231f20" stroke-width="0.9"/>
<line x1="566.6" y1="454.5" x2="566.6" y2="449.3" stroke="#231f20" stroke-width="0.9"/>
<line x1="598.0" y1="454.5" x2="598.0" y2="449.3" stroke="#231f20" stroke-width="0.9"/>
<line x1="629.5" y1="454.5" x2="629.5" y2="449.3" stroke="#231f20" stroke-width="0.9"/>
<line x1="661.0" y1="454.5" x2="661.0" y2="449.3" stroke="#231f20" stroke-width="0.9"/>
<line x1="692.5" y1="454.5" x2="692.5" y2="449.3" stroke="#231f20" stroke-width="0.9"/>
<line x1="724.0" y1="454.5" x2="724.0" y2="449.3" stroke="#231f20" stroke-width="0.9"/>
<line x1="440.6" y1="421.3" x2="446.0" y2="421.3" stroke="#231f20" stroke-width="0.9"/>
<line x1="440.6" y1="388.2" x2="446.0" y2="388.2" stroke="#231f20" stroke-width="0.9"/>
<line x1="440.6" y1="355.0" x2="446.0" y2="355.0" stroke="#231f20" stroke-width="0.9"/>
<line x1="440.6" y1="321.9" x2="446.0" y2="321.9" stroke="#231f20" stroke-width="0.9"/>
<line x1="440.6" y1="288.7" x2="446.0" y2="288.7" stroke="#231f20" stroke-width="0.9"/>
<line x1="440.6" y1="255.6" x2="446.0" y2="255.6" stroke="#231f20" stroke-width="0.9"/>
<text x="434.4" y="458.1" text-anchor="end" font-size="11.3">70</text>
<text x="434.4" y="424.9" text-anchor="end" font-size="11.3">80</text>
<text x="434.4" y="391.8" text-anchor="end" font-size="11.3">90</text>
<text x="434.4" y="358.6" text-anchor="end" font-size="11.3">100</text>
<text x="434.4" y="325.4" text-anchor="end" font-size="11.3">110</text>
<text x="434.4" y="292.3" text-anchor="end" font-size="11.3">120</text>
<text x="434.4" y="259.1" text-anchor="end" font-size="11.3">130</text>
<text x="434.4" y="226.0" text-anchor="end" font-size="11.3">140</text>
<text x="440.6" y="469.3" text-anchor="middle" font-size="11.3">0</text>
<text x="503.6" y="469.3" text-anchor="middle" font-size="11.3">100</text>
<text x="566.6" y="469.3" text-anchor="middle" font-size="11.3">200</text>
<text x="629.5" y="469.3" text-anchor="middle" font-size="11.3">300</text>
<text x="692.5" y="469.3" text-anchor="middle" font-size="11.3">400</text>
<text x="755.8" y="469.3" text-anchor="end" font-size="11.3">500</text>
<text x="440.6" y="213.9" font-size="11.4"><tspan font-style="italic">Z</tspan><tspan dy="3.6" font-size="9.120000000000001">с</tspan><tspan dy="-3.6">, Ом</tspan></text>
<text x="755.8" y="483.6" text-anchor="end" font-size="11.6"><tspan font-style="italic">f</tspan>, МГц</text>
<text x="543.3" y="235.7" text-anchor="middle" font-size="11.3">1</text>
<line x1="545.2" y1="238.1" x2="549.4" y2="246.4" stroke="#231f20" stroke-width="0.9"/>
<text x="743.6" y="286.3" text-anchor="middle" font-size="11.3">2</text>
<line x1="746.4" y1="289.9" x2="749.9" y2="297.1" stroke="#231f20" stroke-width="0.9"/>
<text x="635.9" y="376.9" text-anchor="middle" font-size="11.3">3</text>
<line x1="641.2" y1="357.7" x2="638.4" y2="365.3" stroke="#231f20" stroke-width="0.9"/>
<text x="723.9" y="403.8" text-anchor="middle" font-size="11.3">4</text>
<line x1="730.0" y1="384.0" x2="726.2" y2="392.5" stroke="#231f20" stroke-width="0.9"/>
<text x="687.5" y="274.7" text-anchor="middle" font-size="11.3">ПС</text>
<line x1="695.5" y1="246.6" x2="690.3" y2="258.8" stroke="#231f20" stroke-width="0.9"/>
<text x="541.2" y="404.2" text-anchor="middle" font-size="11.3">ПС</text>
<line x1="536.8" y1="409.4" x2="530.6" y2="422.3" stroke="#231f20" stroke-width="0.9"/>
</svg>
<div class="c" style="left:40.6px;top:506.56px;width:345.6px;font-size:11.0px;line-height:13.20px;text-align:justify;text-align-last:justify;">Рис. 3. Осцилляция частотной характеристики измеренного систе-</div>
<div class="c" style="left:40.6px;top:520.16px;width:345.6px;font-size:11.0px;line-height:13.20px;text-align:justify;text-align-last:justify;">мой А132 в частотном диапазоне до 500 МГц импеданса голубой</div>
<div class="c" style="left:40.6px;top:533.56px;width:345.6px;font-size:11.0px;line-height:13.20px;text-align:justify;text-align-last:justify;">пары четырёхпарного F/UTP-кабеля при длинах участка разделки</div>
<div class="c" style="left:40.6px;top:546.86px;width:345.6px;font-size:11.0px;line-height:13.20px;text-align:center;">27 и 51 см – соответственно <i class="s">а</i>, <i>б</i>; <i>ПС</i> – пределы стандарта</div>
<div class="c" style="left:414.2px;top:495.76px;width:344.6px;font-size:11.0px;line-height:13.20px;text-align:center;">Рис. 4. Частотные характеристики импеданса:</div>
<div class="c" style="left:415.1px;top:507.96px;width:344.6px;font-size:11.0px;line-height:13.20px;text-align:justify;text-align-last:justify;"><i>1</i>, <i>4</i> – значения импеданса, измеренные после обычной калибров-</div>
<div class="c" style="left:415.1px;top:520.06px;width:344.6px;font-size:11.0px;line-height:13.20px;text-align:justify;text-align-last:justify;">ки и после калибровки порта с применением комплекта распреде-</div>
<div class="c" style="left:415.1px;top:532.36px;width:344.6px;font-size:11.0px;line-height:13.20px;text-align:justify;text-align-last:justify;">лённых нагрузок соответственно; <i>2</i> – расчёт импеданса по модели;</div>
<div class="c" style="left:415.1px;top:544.46px;width:344.6px;font-size:11.0px;line-height:13.20px;text-align:center;"><i>3</i> – импеданс, измеренный по ёмкости и задержке</div>
<div style="position:absolute;left:652.2px;top:547.3px;width:3.8px;height:7.6px;background:rgba(40,110,190,0.6)"></div>
</body></html>
